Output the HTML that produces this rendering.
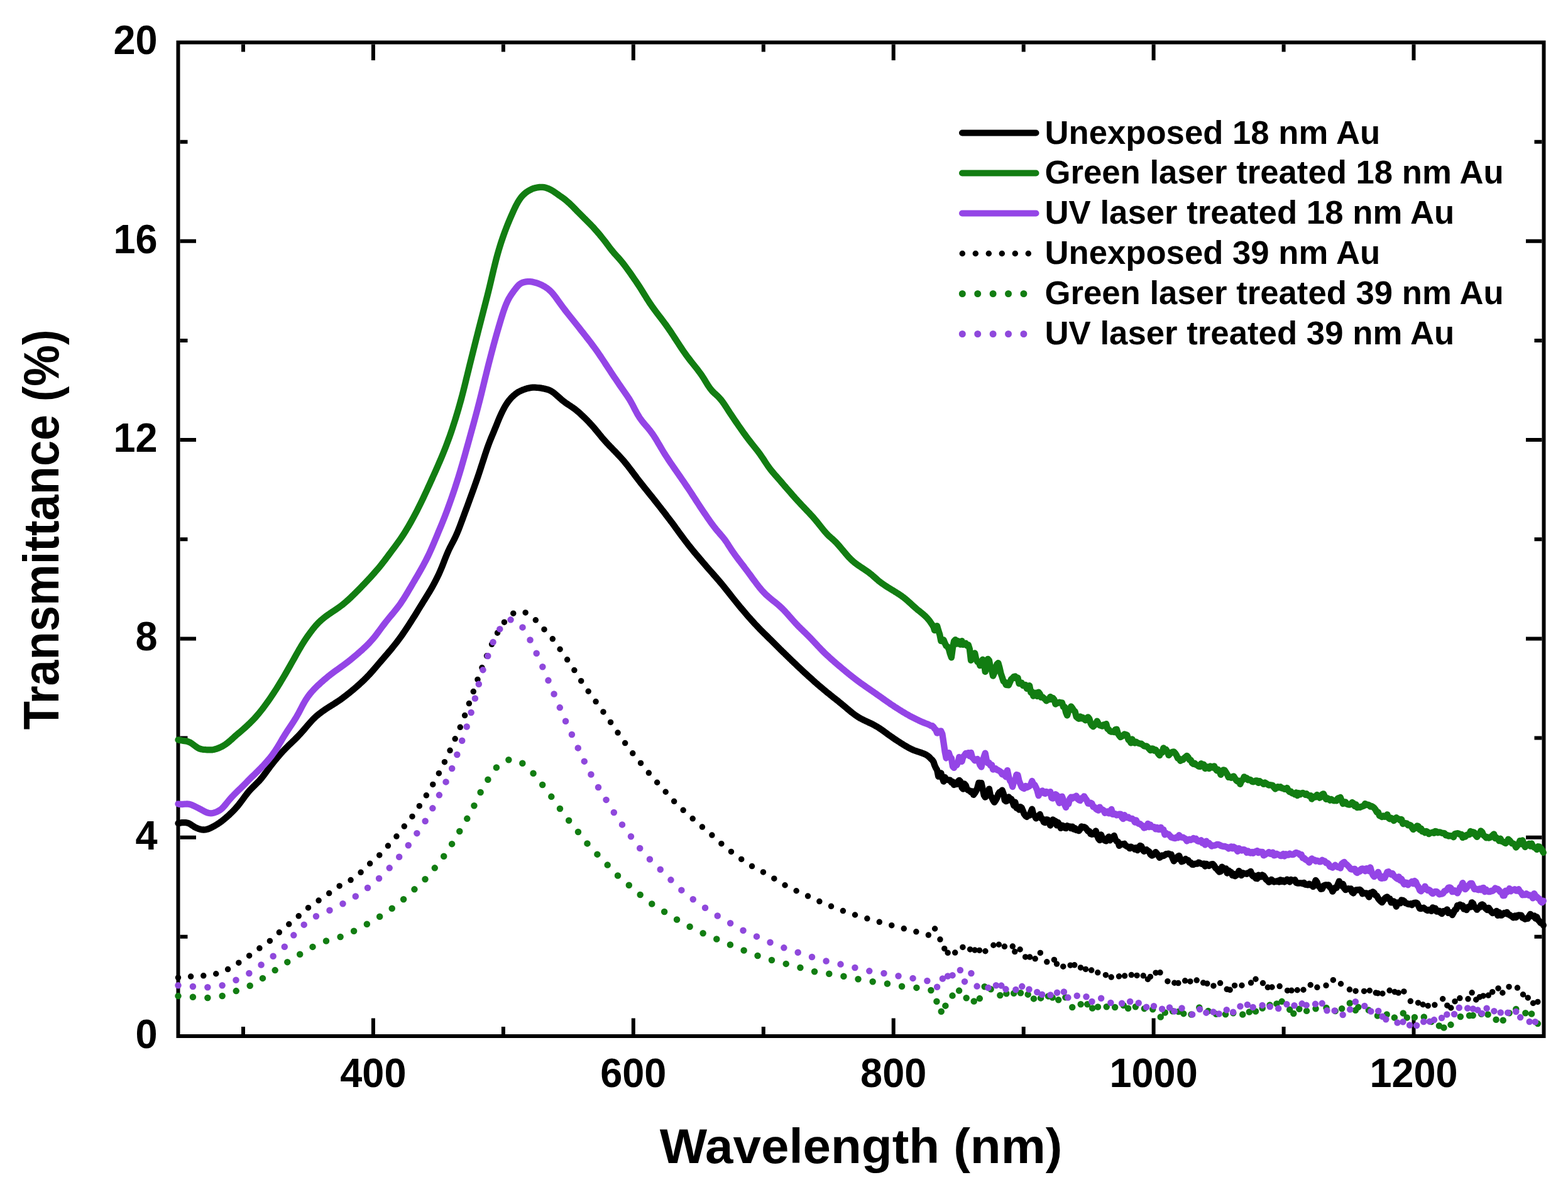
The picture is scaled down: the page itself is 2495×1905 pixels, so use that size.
<!DOCTYPE html>
<html><head><meta charset="utf-8"><title>Transmittance vs Wavelength</title>
<style>html,body{margin:0;padding:0;background:#fff;} svg{display:block;}</style>
</head><body>
<svg xmlns="http://www.w3.org/2000/svg" width="2495" height="1905" viewBox="0 0 2495 1905">
<rect width="2495" height="1905" fill="#fff"/>
<g><rect x="283.5" y="67.5" width="2173.0" height="1581.5" fill="none" stroke="#000" stroke-width="6.0"/><path d="M387.0 1646.0V1634.0M387.0 70.5V82.5M593.9 1646.0V1620.5M593.9 70.5V96.0M800.9 1646.0V1634.0M800.9 70.5V82.5M1007.8 1646.0V1620.5M1007.8 70.5V96.0M1214.8 1646.0V1634.0M1214.8 70.5V82.5M1421.7 1646.0V1620.5M1421.7 70.5V96.0M1628.7 1646.0V1634.0M1628.7 70.5V82.5M1835.6 1646.0V1620.5M1835.6 70.5V96.0M2042.6 1646.0V1634.0M2042.6 70.5V82.5M2249.5 1646.0V1620.5M2249.5 70.5V96.0M286.5 1490.8H298.5M2453.5 1490.8H2441.5M286.5 1332.7H312.0M2453.5 1332.7H2428.0M286.5 1174.5H298.5M2453.5 1174.5H2441.5M286.5 1016.4H312.0M2453.5 1016.4H2428.0M286.5 858.2H298.5M2453.5 858.2H2441.5M286.5 700.1H312.0M2453.5 700.1H2428.0M286.5 542.0H298.5M2453.5 542.0H2441.5M286.5 383.8H312.0M2453.5 383.8H2428.0M286.5 225.7H298.5M2453.5 225.7H2441.5" stroke="#000" stroke-width="6" fill="none"/></g>
<g><path d="M283.5 1310.2L285.5 1309.9L287.5 1309.5L289.5 1309.2L291.5 1309.1L293.5 1309.1L295.5 1309.2L297.5 1309.5L299.5 1310.0L301.5 1310.9L303.5 1312.1L305.5 1313.5L307.5 1314.8L309.5 1316.1L311.5 1317.1L313.5 1318.0L315.5 1318.8L317.5 1319.5L319.5 1320.0L321.5 1320.4L323.5 1320.5L325.5 1320.5L327.5 1320.3L329.5 1319.8L331.5 1319.2L333.5 1318.4L335.5 1317.5L337.5 1316.4L339.5 1315.4L341.5 1314.3L343.5 1313.1L345.5 1311.9L347.5 1310.6L349.5 1309.2L351.5 1307.8L353.5 1306.3L355.5 1304.7L357.5 1303.1L359.5 1301.4L361.5 1299.6L363.5 1297.9L365.5 1296.0L367.5 1294.1L369.5 1292.1L371.5 1290.1L373.5 1288.0L375.5 1285.8L377.5 1283.5L379.5 1281.1L381.5 1278.5L383.5 1275.9L385.5 1273.2L387.5 1270.5L389.5 1267.7L391.5 1265.1L393.5 1262.5L395.5 1260.0L397.5 1257.8L399.5 1255.6L401.5 1253.6L403.5 1251.6L405.5 1249.7L407.5 1247.7L409.5 1245.7L411.5 1243.7L413.5 1241.5L415.5 1239.1L417.5 1236.7L419.5 1234.1L421.5 1231.4L423.5 1228.7L425.5 1226.0L427.5 1223.2L429.5 1220.5L431.5 1217.9L433.5 1215.3L435.5 1212.8L437.5 1210.3L439.5 1207.9L441.5 1205.5L443.5 1203.1L445.5 1200.8L447.5 1198.6L449.5 1196.3L451.5 1194.2L453.5 1192.1L455.5 1190.1L457.5 1188.1L459.5 1186.1L461.5 1184.2L463.5 1182.3L465.5 1180.3L467.5 1178.4L469.5 1176.5L471.5 1174.5L473.5 1172.5L475.5 1170.4L477.5 1168.2L479.5 1166.0L481.5 1163.8L483.5 1161.5L485.5 1159.1L487.5 1156.7L489.5 1154.4L491.5 1152.1L493.5 1149.8L495.5 1147.6L497.5 1145.4L499.5 1143.4L501.5 1141.5L503.5 1139.7L505.5 1138.0L507.5 1136.3L509.5 1134.8L511.5 1133.3L513.5 1131.9L515.5 1130.5L517.5 1129.1L519.5 1127.8L521.5 1126.5L523.5 1125.2L525.5 1124.0L527.5 1122.7L529.5 1121.5L531.5 1120.2L533.5 1118.9L535.5 1117.6L537.5 1116.3L539.5 1115.0L541.5 1113.6L543.5 1112.1L545.5 1110.7L547.5 1109.2L549.5 1107.6L551.5 1106.1L553.5 1104.5L555.5 1102.9L557.5 1101.3L559.5 1099.7L561.5 1098.0L563.5 1096.3L565.5 1094.6L567.5 1092.9L569.5 1091.1L571.5 1089.3L573.5 1087.5L575.5 1085.7L577.5 1083.8L579.5 1081.9L581.5 1079.9L583.5 1077.9L585.5 1075.8L587.5 1073.7L589.5 1071.5L591.5 1069.3L593.5 1067.0L595.5 1064.7L597.5 1062.4L599.5 1060.0L601.5 1057.7L603.5 1055.3L605.5 1053.0L607.5 1050.6L609.5 1048.3L611.5 1046.0L613.5 1043.6L615.5 1041.3L617.5 1039.0L619.5 1036.6L621.5 1034.3L623.5 1031.9L625.5 1029.4L627.5 1026.9L629.5 1024.4L631.5 1021.8L633.5 1019.2L635.5 1016.5L637.5 1013.7L639.5 1010.9L641.5 1008.0L643.5 1005.1L645.5 1002.1L647.5 999.1L649.5 996.1L651.5 993.0L653.5 989.9L655.5 986.8L657.5 983.6L659.5 980.4L661.5 977.2L663.5 974.0L665.5 970.7L667.5 967.4L669.5 964.1L671.5 960.9L673.5 957.6L675.5 954.4L677.5 951.2L679.5 948.0L681.5 944.8L683.5 941.5L685.5 938.1L687.5 934.6L689.5 931.0L691.5 927.3L693.5 923.4L695.5 919.4L697.5 915.3L699.5 910.9L701.5 906.3L703.5 901.5L705.5 896.4L707.5 891.2L709.5 886.1L711.5 881.2L713.5 876.6L715.5 872.4L717.5 868.5L719.5 864.7L721.5 860.9L723.5 856.9L725.5 852.6L727.5 848.1L729.5 843.2L731.5 838.1L733.5 832.8L735.5 827.4L737.5 822.0L739.5 816.5L741.5 811.1L743.5 805.7L745.5 800.3L747.5 794.8L749.5 789.3L751.5 783.8L753.5 778.3L755.5 772.6L757.5 767.0L759.5 761.2L761.5 755.3L763.5 749.3L765.5 743.1L767.5 737.0L769.5 730.8L771.5 724.6L773.5 718.6L775.5 712.8L777.5 707.3L779.5 702.0L781.5 697.0L783.5 692.2L785.5 687.4L787.5 682.6L789.5 677.7L791.5 672.7L793.5 667.8L795.5 663.1L797.5 658.7L799.5 654.5L801.5 650.6L803.5 646.9L805.5 643.6L807.5 640.6L809.5 637.9L811.5 635.5L813.5 633.2L815.5 631.2L817.5 629.3L819.5 627.6L821.5 626.1L823.5 624.7L825.5 623.5L827.5 622.5L829.5 621.6L831.5 620.7L833.5 620.0L835.5 619.2L837.5 618.6L839.5 618.0L841.5 617.6L843.5 617.2L845.5 616.9L847.5 616.7L849.5 616.7L851.5 616.7L853.5 616.8L855.5 617.0L857.5 617.2L859.5 617.4L861.5 617.7L863.5 618.1L865.5 618.5L867.5 618.9L869.5 619.4L871.5 620.0L873.5 620.7L875.5 621.6L877.5 622.7L879.5 624.0L881.5 625.4L883.5 627.1L885.5 628.8L887.5 630.6L889.5 632.4L891.5 634.2L893.5 636.0L895.5 637.7L897.5 639.2L899.5 640.7L901.5 642.1L903.5 643.4L905.5 644.7L907.5 646.0L909.5 647.4L911.5 648.8L913.5 650.2L915.5 651.7L917.5 653.3L919.5 655.0L921.5 656.7L923.5 658.5L925.5 660.4L927.5 662.3L929.5 664.2L931.5 666.2L933.5 668.2L935.5 670.2L937.5 672.3L939.5 674.5L941.5 676.6L943.5 678.9L945.5 681.2L947.5 683.6L949.5 686.0L951.5 688.4L953.5 690.9L955.5 693.3L957.5 695.8L959.5 698.1L961.5 700.4L963.5 702.7L965.5 704.9L967.5 707.0L969.5 709.1L971.5 711.2L973.5 713.2L975.5 715.3L977.5 717.3L979.5 719.4L981.5 721.5L983.5 723.6L985.5 725.7L987.5 727.9L989.5 730.1L991.5 732.4L993.5 734.7L995.5 737.2L997.5 739.6L999.5 742.2L1001.5 744.8L1003.5 747.4L1005.5 750.0L1007.5 752.7L1009.5 755.4L1011.5 758.0L1013.5 760.7L1015.5 763.3L1017.5 765.9L1019.5 768.5L1021.5 771.0L1023.5 773.5L1025.5 776.1L1027.5 778.5L1029.5 781.0L1031.5 783.5L1033.5 786.0L1035.5 788.5L1037.5 790.9L1039.5 793.4L1041.5 796.0L1043.5 798.5L1045.5 801.0L1047.5 803.6L1049.5 806.1L1051.5 808.7L1053.5 811.3L1055.5 813.8L1057.5 816.4L1059.5 819.0L1061.5 821.7L1063.5 824.3L1065.5 826.9L1067.5 829.6L1069.5 832.2L1071.5 834.9L1073.5 837.6L1075.5 840.4L1077.5 843.1L1079.5 845.9L1081.5 848.7L1083.5 851.4L1085.5 854.1L1087.5 856.8L1089.5 859.5L1091.5 862.1L1093.5 864.7L1095.5 867.3L1097.5 869.8L1099.5 872.3L1101.5 874.7L1103.5 877.2L1105.5 879.6L1107.5 882.0L1109.5 884.4L1111.5 886.7L1113.5 889.1L1115.5 891.4L1117.5 893.8L1119.5 896.1L1121.5 898.4L1123.5 900.8L1125.5 903.1L1127.5 905.4L1129.5 907.6L1131.5 909.9L1133.5 912.2L1135.5 914.5L1137.5 916.7L1139.5 919.0L1141.5 921.4L1143.5 923.7L1145.5 926.0L1147.5 928.4L1149.5 930.8L1151.5 933.3L1153.5 935.8L1155.5 938.3L1157.5 940.8L1159.5 943.3L1161.5 945.8L1163.5 948.4L1165.5 950.9L1167.5 953.4L1169.5 955.9L1171.5 958.4L1173.5 960.8L1175.5 963.3L1177.5 965.7L1179.5 968.1L1181.5 970.4L1183.5 972.8L1185.5 975.1L1187.5 977.5L1189.5 979.8L1191.5 982.1L1193.5 984.3L1195.5 986.6L1197.5 988.8L1199.5 991.0L1201.5 993.2L1203.5 995.3L1205.5 997.4L1207.5 999.5L1209.5 1001.6L1211.5 1003.6L1213.5 1005.6L1215.5 1007.6L1217.5 1009.6L1219.5 1011.5L1221.5 1013.5L1223.5 1015.5L1225.5 1017.4L1227.5 1019.4L1229.5 1021.4L1231.5 1023.4L1233.5 1025.4L1235.5 1027.4L1237.5 1029.4L1239.5 1031.4L1241.5 1033.4L1243.5 1035.3L1245.5 1037.3L1247.5 1039.2L1249.5 1041.2L1251.5 1043.1L1253.5 1045.1L1255.5 1047.0L1257.5 1048.9L1259.5 1050.9L1261.5 1052.8L1263.5 1054.7L1265.5 1056.6L1267.5 1058.5L1269.5 1060.4L1271.5 1062.3L1273.5 1064.2L1275.5 1066.0L1277.5 1067.9L1279.5 1069.8L1281.5 1071.6L1283.5 1073.4L1285.5 1075.3L1287.5 1077.1L1289.5 1078.9L1291.5 1080.7L1293.5 1082.5L1295.5 1084.3L1297.5 1086.1L1299.5 1087.8L1301.5 1089.6L1303.5 1091.3L1305.5 1093.0L1307.5 1094.7L1309.5 1096.4L1311.5 1098.1L1313.5 1099.7L1315.5 1101.4L1317.5 1103.0L1319.5 1104.6L1321.5 1106.2L1323.5 1107.8L1325.5 1109.4L1327.5 1111.0L1329.5 1112.6L1331.5 1114.2L1333.5 1115.7L1335.5 1117.4L1337.5 1119.0L1339.5 1120.6L1341.5 1122.3L1343.5 1123.9L1345.5 1125.6L1347.5 1127.3L1349.5 1129.0L1351.5 1130.7L1353.5 1132.3L1355.5 1134.0L1357.5 1135.5L1359.5 1137.0L1361.5 1138.5L1363.5 1139.8L1365.5 1141.1L1367.5 1142.3L1369.5 1143.5L1371.5 1144.5L1373.5 1145.6L1375.5 1146.5L1377.5 1147.5L1379.5 1148.4L1381.5 1149.3L1383.5 1150.3L1385.5 1151.2L1387.5 1152.2L1389.5 1153.2L1391.5 1154.3L1393.5 1155.4L1395.5 1156.5L1397.5 1157.8L1399.5 1159.1L1401.5 1160.4L1403.5 1161.8L1405.5 1163.2L1407.5 1164.7L1409.5 1166.1L1411.5 1167.6L1413.5 1169.1L1415.5 1170.5L1417.5 1171.9L1419.5 1173.3L1421.5 1174.7L1423.5 1176.1L1425.5 1177.4L1427.5 1178.7L1429.5 1180.0L1431.5 1181.3L1433.5 1182.6L1435.5 1183.8L1437.5 1185.1L1439.5 1186.3L1441.5 1187.5L1443.5 1188.7L1445.5 1189.8L1447.5 1190.8L1449.5 1191.8L1451.5 1192.8L1453.5 1193.7L1455.5 1194.5L1457.5 1195.2L1459.5 1195.9L1461.5 1196.5L1463.5 1197.2L1465.5 1197.8L1467.5 1198.6L1469.5 1199.3L1471.5 1200.2L1473.5 1201.2L1475.5 1202.4L1477.5 1203.9L1479.5 1205.7L1481.5 1207.9L1483.5 1209.6L1485.5 1212.6L1487.0 1217.4L1489.1 1222.2L1491.1 1225.5L1493.2 1235.6L1495.3 1231.9L1497.3 1230.4L1499.4 1238.2L1501.5 1243.6L1503.6 1237.2L1505.6 1240.5L1507.7 1240.9L1509.8 1241.4L1511.8 1241.7L1513.9 1245.2L1516.0 1244.1L1518.0 1249.0L1520.1 1247.2L1522.2 1248.0L1524.3 1243.9L1526.3 1241.8L1528.4 1243.9L1530.5 1253.3L1532.5 1255.6L1534.6 1247.4L1536.7 1250.0L1538.7 1256.0L1540.8 1257.7L1542.9 1258.4L1545.0 1260.5L1547.0 1259.5L1549.1 1264.9L1551.2 1262.2L1553.2 1258.7L1555.3 1253.6L1557.4 1245.8L1559.4 1246.3L1561.5 1246.1L1563.6 1255.3L1565.7 1265.5L1567.7 1268.7L1569.8 1264.3L1571.9 1264.0L1573.9 1255.6L1576.0 1266.4L1578.1 1268.9L1580.1 1273.5L1582.2 1276.7L1584.3 1273.7L1586.4 1269.8L1588.4 1263.8L1590.5 1260.7L1592.6 1260.2L1594.6 1257.6L1596.7 1263.1L1598.8 1273.8L1600.8 1275.1L1602.9 1274.3L1605.0 1268.3L1607.1 1271.1L1609.1 1271.5L1611.2 1276.0L1613.3 1282.0L1615.3 1276.6L1617.4 1285.8L1619.5 1284.7L1621.5 1288.5L1623.6 1284.1L1625.7 1285.7L1627.8 1290.8L1629.8 1295.7L1631.9 1298.5L1634.0 1299.9L1636.0 1297.4L1638.1 1297.5L1640.2 1292.4L1642.2 1287.7L1644.3 1296.3L1646.4 1298.4L1648.5 1302.4L1650.5 1299.3L1652.6 1299.0L1654.7 1296.0L1656.7 1302.4L1658.8 1303.1L1660.9 1308.5L1662.9 1309.2L1665.0 1304.3L1667.1 1304.6L1669.2 1307.5L1671.2 1313.5L1673.3 1310.5L1675.4 1304.5L1677.4 1306.0L1679.5 1307.0L1681.6 1313.4L1683.6 1309.0L1685.7 1312.8L1687.8 1317.9L1689.9 1313.7L1691.9 1314.4L1694.0 1317.5L1696.1 1318.0L1698.1 1314.2L1700.2 1316.2L1702.3 1315.4L1704.3 1318.2L1706.4 1315.6L1708.5 1319.6L1710.6 1318.1L1712.6 1321.0L1714.7 1320.7L1716.8 1322.2L1718.8 1319.5L1720.9 1315.4L1723.0 1316.8L1725.0 1316.1L1727.1 1317.2L1729.2 1319.8L1731.3 1322.8L1733.3 1322.9L1735.4 1327.1L1737.5 1327.7L1739.5 1325.6L1741.6 1327.5L1743.7 1322.5L1745.7 1329.4L1747.8 1334.6L1749.9 1337.0L1752.0 1328.4L1754.0 1333.3L1756.1 1336.3L1758.2 1337.6L1760.2 1338.4L1762.3 1334.0L1764.4 1331.7L1766.4 1337.3L1768.5 1332.9L1770.6 1332.9L1772.7 1330.0L1774.7 1335.8L1776.8 1338.9L1778.9 1339.6L1780.9 1345.8L1783.0 1344.2L1785.1 1343.5L1787.1 1343.5L1789.2 1342.8L1791.3 1345.9L1793.4 1347.1L1795.4 1347.7L1797.5 1350.2L1799.6 1347.6L1801.6 1349.1L1803.7 1349.4L1805.8 1351.7L1807.8 1349.1L1809.9 1353.1L1812.0 1348.6L1814.1 1346.0L1816.1 1346.6L1818.2 1352.2L1820.3 1354.9L1822.3 1352.8L1824.4 1352.2L1826.5 1354.1L1828.5 1355.4L1830.6 1359.6L1832.7 1361.5L1834.8 1360.8L1836.8 1358.6L1838.9 1356.2L1841.0 1358.6L1843.0 1361.4L1845.1 1364.9L1847.2 1363.3L1849.2 1361.5L1851.3 1362.1L1853.4 1360.8L1855.5 1359.2L1857.5 1359.1L1859.6 1358.6L1861.7 1360.1L1863.7 1360.0L1865.8 1365.8L1867.9 1370.3L1869.9 1367.3L1872.0 1367.2L1874.1 1363.2L1876.2 1361.9L1878.2 1367.3L1880.3 1371.3L1882.4 1370.5L1884.4 1368.6L1886.5 1367.1L1888.6 1368.7L1890.6 1369.0L1892.7 1372.8L1894.8 1372.8L1896.9 1375.8L1898.9 1376.0L1901.0 1374.9L1903.1 1374.6L1905.1 1374.7L1907.2 1372.7L1909.3 1373.4L1911.3 1374.5L1913.4 1375.3L1915.5 1374.6L1917.6 1378.5L1919.6 1374.8L1921.7 1377.1L1923.8 1378.0L1925.8 1376.2L1927.9 1375.4L1930.0 1375.2L1932.0 1377.6L1934.1 1381.3L1936.2 1382.8L1938.3 1385.5L1940.3 1387.6L1942.4 1386.7L1944.5 1379.6L1946.5 1382.0L1948.6 1383.1L1950.7 1382.3L1952.7 1389.5L1954.8 1385.3L1956.9 1387.2L1959.0 1388.2L1961.0 1393.1L1963.1 1390.9L1965.2 1394.3L1967.2 1393.0L1969.3 1390.6L1971.4 1386.1L1973.4 1388.3L1975.5 1393.1L1977.6 1389.3L1979.7 1390.1L1981.7 1390.3L1983.8 1390.9L1985.9 1389.1L1987.9 1389.1L1990.0 1386.8L1992.1 1392.5L1994.1 1394.5L1996.2 1393.8L1998.3 1397.9L2000.4 1398.2L2002.4 1392.7L2004.5 1393.6L2006.6 1395.4L2008.6 1392.6L2010.7 1393.8L2012.8 1396.9L2014.8 1399.8L2016.9 1401.2L2019.0 1403.8L2021.1 1402.8L2023.1 1399.8L2025.2 1402.1L2027.3 1403.5L2029.3 1402.6L2031.4 1402.8L2033.5 1401.8L2035.5 1403.6L2037.6 1400.3L2039.7 1402.9L2041.8 1401.4L2043.8 1403.4L2045.9 1402.3L2048.0 1399.7L2050.0 1401.6L2052.1 1403.5L2054.2 1399.9L2056.2 1401.0L2058.3 1401.0L2060.4 1400.3L2062.5 1404.7L2064.5 1405.6L2066.6 1405.5L2068.7 1405.3L2070.7 1405.4L2072.8 1406.3L2074.9 1404.9L2076.9 1407.6L2079.0 1408.0L2081.1 1408.3L2083.2 1406.7L2085.2 1408.4L2087.3 1408.8L2089.4 1411.2L2091.4 1406.5L2093.5 1401.0L2095.6 1404.0L2097.6 1409.7L2099.7 1411.2L2101.8 1414.8L2103.9 1414.5L2105.9 1409.9L2108.0 1408.8L2110.1 1408.3L2112.1 1408.7L2114.2 1408.5L2116.3 1412.1L2118.3 1413.6L2120.4 1418.7L2122.5 1415.5L2124.6 1412.6L2126.6 1412.8L2128.7 1407.7L2130.8 1402.6L2132.8 1405.7L2134.9 1409.8L2137.0 1407.0L2139.0 1413.7L2141.1 1416.1L2143.2 1415.1L2145.3 1414.2L2147.3 1415.1L2149.4 1414.3L2151.5 1420.0L2153.5 1421.5L2155.6 1417.8L2157.7 1416.5L2159.7 1416.5L2161.8 1416.1L2163.9 1415.9L2166.0 1418.0L2168.0 1422.4L2170.1 1420.9L2172.2 1421.8L2174.2 1421.5L2176.3 1424.1L2178.4 1427.6L2180.4 1421.0L2182.5 1422.5L2184.6 1419.4L2186.7 1421.2L2188.7 1424.9L2190.8 1425.6L2192.9 1429.7L2194.9 1432.2L2197.0 1434.4L2199.1 1436.2L2201.1 1433.3L2203.2 1430.2L2205.3 1428.2L2207.4 1427.4L2209.4 1430.6L2211.5 1430.4L2213.6 1436.4L2215.6 1436.1L2217.7 1434.3L2219.8 1436.7L2221.8 1442.6L2223.9 1436.4L2226.0 1436.9L2228.1 1437.3L2230.1 1432.5L2232.2 1432.8L2234.3 1434.2L2236.3 1437.1L2238.4 1437.5L2240.5 1438.8L2242.5 1439.2L2244.6 1438.3L2246.7 1440.3L2248.8 1437.6L2250.8 1436.8L2252.9 1436.6L2255.0 1437.5L2257.0 1441.3L2259.1 1445.9L2261.2 1446.1L2263.2 1445.2L2265.3 1444.7L2267.4 1446.4L2269.5 1448.0L2271.5 1449.1L2273.6 1447.8L2275.7 1448.4L2277.7 1449.9L2279.8 1444.3L2281.9 1448.0L2283.9 1445.6L2286.0 1450.6L2288.1 1450.5L2290.2 1449.8L2292.2 1452.6L2294.3 1454.1L2296.4 1450.1L2298.4 1450.5L2300.5 1449.5L2302.6 1447.4L2304.6 1452.9L2306.7 1452.7L2308.8 1452.1L2310.9 1456.1L2312.9 1452.5L2315.0 1448.1L2317.1 1447.2L2319.1 1441.1L2321.2 1441.5L2323.3 1439.6L2325.3 1442.8L2327.4 1441.2L2329.5 1446.6L2331.6 1446.2L2333.6 1448.2L2335.7 1443.5L2337.8 1443.1L2339.8 1443.6L2341.9 1436.3L2344.0 1437.9L2346.0 1443.4L2348.1 1444.7L2350.2 1447.7L2352.3 1444.5L2354.3 1444.2L2356.4 1440.4L2358.5 1439.4L2360.5 1440.8L2362.6 1444.5L2364.7 1446.4L2366.7 1448.2L2368.8 1444.9L2370.9 1448.0L2373.0 1451.1L2375.0 1453.1L2377.1 1452.4L2379.2 1452.1L2381.2 1449.9L2383.3 1456.9L2385.4 1451.9L2387.4 1456.6L2389.5 1456.6L2391.6 1454.8L2393.7 1453.0L2395.7 1453.7L2397.8 1451.9L2399.9 1455.2L2401.9 1455.7L2404.0 1457.4L2406.1 1458.6L2408.1 1460.4L2410.2 1457.5L2412.3 1460.1L2414.4 1456.9L2416.4 1456.4L2418.5 1456.6L2420.6 1456.6L2422.6 1460.6L2424.7 1461.3L2426.8 1462.8L2428.8 1461.7L2430.9 1461.9L2433.0 1458.1L2435.1 1454.9L2437.1 1457.3L2439.2 1458.3L2441.3 1457.4L2443.3 1461.7L2445.4 1459.5L2447.5 1464.1L2449.5 1466.1L2451.6 1468.9L2453.7 1469.3L2455.8 1472.6" fill="none" stroke="#000" stroke-width="10.3" stroke-linejoin="round" stroke-linecap="round"/><path d="M283.5 1177.5L285.5 1177.8L287.5 1178.1L289.5 1178.5L291.5 1178.8L293.5 1179.1L295.5 1179.4L297.5 1179.8L299.5 1180.4L301.5 1181.2L303.5 1182.2L305.5 1183.5L307.5 1185.0L309.5 1186.5L311.5 1188.0L313.5 1189.4L315.5 1190.6L317.5 1191.5L319.5 1192.1L321.5 1192.5L323.5 1192.8L325.5 1193.0L327.5 1193.2L329.5 1193.3L331.5 1193.4L333.5 1193.4L335.5 1193.4L337.5 1193.3L339.5 1193.0L341.5 1192.6L343.5 1192.1L345.5 1191.4L347.5 1190.7L349.5 1189.8L351.5 1188.9L353.5 1187.9L355.5 1186.8L357.5 1185.5L359.5 1184.2L361.5 1182.7L363.5 1181.1L365.5 1179.3L367.5 1177.6L369.5 1175.8L371.5 1174.0L373.5 1172.2L375.5 1170.4L377.5 1168.7L379.5 1167.0L381.5 1165.3L383.5 1163.6L385.5 1161.9L387.5 1160.2L389.5 1158.4L391.5 1156.6L393.5 1154.7L395.5 1152.8L397.5 1150.9L399.5 1148.9L401.5 1146.9L403.5 1144.9L405.5 1142.7L407.5 1140.5L409.5 1138.2L411.5 1135.9L413.5 1133.4L415.5 1130.9L417.5 1128.4L419.5 1125.7L421.5 1123.0L423.5 1120.3L425.5 1117.5L427.5 1114.7L429.5 1111.8L431.5 1108.9L433.5 1105.9L435.5 1102.9L437.5 1099.8L439.5 1096.7L441.5 1093.5L443.5 1090.3L445.5 1087.0L447.5 1083.7L449.5 1080.4L451.5 1077.0L453.5 1073.6L455.5 1070.1L457.5 1066.6L459.5 1063.1L461.5 1059.6L463.5 1056.0L465.5 1052.5L467.5 1048.9L469.5 1045.4L471.5 1041.8L473.5 1038.3L475.5 1034.7L477.5 1031.3L479.5 1027.9L481.5 1024.6L483.5 1021.4L485.5 1018.4L487.5 1015.4L489.5 1012.5L491.5 1009.7L493.5 1006.9L495.5 1004.3L497.5 1001.7L499.5 999.2L501.5 996.8L503.5 994.5L505.5 992.4L507.5 990.3L509.5 988.4L511.5 986.6L513.5 984.9L515.5 983.3L517.5 981.7L519.5 980.2L521.5 978.8L523.5 977.4L525.5 976.0L527.5 974.6L529.5 973.3L531.5 972.0L533.5 970.6L535.5 969.3L537.5 967.9L539.5 966.5L541.5 965.0L543.5 963.5L545.5 961.9L547.5 960.3L549.5 958.6L551.5 956.9L553.5 955.1L555.5 953.3L557.5 951.4L559.5 949.5L561.5 947.6L563.5 945.6L565.5 943.7L567.5 941.7L569.5 939.7L571.5 937.6L573.5 935.6L575.5 933.5L577.5 931.4L579.5 929.4L581.5 927.3L583.5 925.1L585.5 923.0L587.5 920.9L589.5 918.7L591.5 916.5L593.5 914.3L595.5 912.0L597.5 909.7L599.5 907.4L601.5 905.1L603.5 902.7L605.5 900.3L607.5 897.8L609.5 895.2L611.5 892.6L613.5 890.0L615.5 887.3L617.5 884.6L619.5 881.9L621.5 879.2L623.5 876.5L625.5 873.9L627.5 871.2L629.5 868.5L631.5 865.8L633.5 863.0L635.5 860.2L637.5 857.3L639.5 854.3L641.5 851.3L643.5 848.2L645.5 845.0L647.5 841.7L649.5 838.3L651.5 834.9L653.5 831.4L655.5 827.8L657.5 824.1L659.5 820.4L661.5 816.6L663.5 812.8L665.5 808.8L667.5 804.8L669.5 800.8L671.5 796.6L673.5 792.5L675.5 788.2L677.5 783.9L679.5 779.6L681.5 775.2L683.5 770.8L685.5 766.4L687.5 762.0L689.5 757.5L691.5 753.1L693.5 748.6L695.5 744.1L697.5 739.5L699.5 734.9L701.5 730.2L703.5 725.5L705.5 720.6L707.5 715.6L709.5 710.6L711.5 705.3L713.5 699.9L715.5 694.4L717.5 688.7L719.5 682.8L721.5 676.7L723.5 670.5L725.5 664.1L727.5 657.5L729.5 650.7L731.5 643.7L733.5 636.5L735.5 629.0L737.5 621.2L739.5 613.2L741.5 605.1L743.5 596.9L745.5 588.7L747.5 580.6L749.5 572.5L751.5 564.5L753.5 556.5L755.5 548.5L757.5 540.6L759.5 532.7L761.5 524.8L763.5 517.0L765.5 509.2L767.5 501.5L769.5 493.8L771.5 486.0L773.5 478.3L775.5 470.4L777.5 462.4L779.5 454.2L781.5 445.8L783.5 437.3L785.5 428.9L787.5 420.7L789.5 412.8L791.5 405.3L793.5 398.3L795.5 391.7L797.5 385.4L799.5 379.5L801.5 373.8L803.5 368.3L805.5 363.0L807.5 357.9L809.5 353.0L811.5 348.2L813.5 343.6L815.5 339.1L817.5 334.7L819.5 330.4L821.5 326.4L823.5 322.7L825.5 319.3L827.5 316.3L829.5 313.7L831.5 311.4L833.5 309.4L835.5 307.6L837.5 306.0L839.5 304.6L841.5 303.4L843.5 302.3L845.5 301.3L847.5 300.4L849.5 299.7L851.5 299.1L853.5 298.7L855.5 298.3L857.5 298.0L859.5 297.9L861.5 297.8L863.5 297.9L865.5 298.1L867.5 298.5L869.5 299.1L871.5 299.8L873.5 300.6L875.5 301.6L877.5 302.6L879.5 303.8L881.5 305.1L883.5 306.5L885.5 307.9L887.5 309.3L889.5 310.7L891.5 312.1L893.5 313.5L895.5 314.9L897.5 316.4L899.5 317.9L901.5 319.6L903.5 321.3L905.5 323.1L907.5 325.0L909.5 326.9L911.5 328.9L913.5 331.0L915.5 333.0L917.5 335.1L919.5 337.2L921.5 339.2L923.5 341.2L925.5 343.2L927.5 345.2L929.5 347.2L931.5 349.1L933.5 351.1L935.5 353.1L937.5 355.1L939.5 357.1L941.5 359.2L943.5 361.3L945.5 363.5L947.5 365.8L949.5 368.0L951.5 370.4L953.5 372.7L955.5 375.1L957.5 377.6L959.5 380.1L961.5 382.6L963.5 385.2L965.5 387.8L967.5 390.5L969.5 393.2L971.5 395.8L973.5 398.4L975.5 400.8L977.5 403.2L979.5 405.4L981.5 407.6L983.5 409.8L985.5 412.0L987.5 414.3L989.5 416.7L991.5 419.2L993.5 421.8L995.5 424.5L997.5 427.2L999.5 430.0L1001.5 432.8L1003.5 435.6L1005.5 438.5L1007.5 441.4L1009.5 444.3L1011.5 447.2L1013.5 450.2L1015.5 453.2L1017.5 456.2L1019.5 459.3L1021.5 462.5L1023.5 465.7L1025.5 468.9L1027.5 472.2L1029.5 475.4L1031.5 478.5L1033.5 481.6L1035.5 484.6L1037.5 487.4L1039.5 490.2L1041.5 493.0L1043.5 495.7L1045.5 498.3L1047.5 501.0L1049.5 503.6L1051.5 506.2L1053.5 508.8L1055.5 511.5L1057.5 514.2L1059.5 516.9L1061.5 519.7L1063.5 522.6L1065.5 525.5L1067.5 528.4L1069.5 531.5L1071.5 534.5L1073.5 537.6L1075.5 540.6L1077.5 543.7L1079.5 546.8L1081.5 549.8L1083.5 552.9L1085.5 555.9L1087.5 558.8L1089.5 561.7L1091.5 564.5L1093.5 567.2L1095.5 569.9L1097.5 572.5L1099.5 575.1L1101.5 577.6L1103.5 580.1L1105.5 582.6L1107.5 585.1L1109.5 587.7L1111.5 590.3L1113.5 593.0L1115.5 595.8L1117.5 598.7L1119.5 601.8L1121.5 605.0L1123.5 608.3L1125.5 611.6L1127.5 614.7L1129.5 617.6L1131.5 620.2L1133.5 622.5L1135.5 624.5L1137.5 626.4L1139.5 628.2L1141.5 630.1L1143.5 632.0L1145.5 634.2L1147.5 636.5L1149.5 639.1L1151.5 641.9L1153.5 644.9L1155.5 647.9L1157.5 651.0L1159.5 654.1L1161.5 657.2L1163.5 660.2L1165.5 663.2L1167.5 666.1L1169.5 669.1L1171.5 672.0L1173.5 674.9L1175.5 677.8L1177.5 680.7L1179.5 683.5L1181.5 686.4L1183.5 689.2L1185.5 691.9L1187.5 694.7L1189.5 697.3L1191.5 700.0L1193.5 702.5L1195.5 705.1L1197.5 707.6L1199.5 710.1L1201.5 712.6L1203.5 715.1L1205.5 717.7L1207.5 720.3L1209.5 723.1L1211.5 725.9L1213.5 728.8L1215.5 731.9L1217.5 735.0L1219.5 738.0L1221.5 741.0L1223.5 743.8L1225.5 746.5L1227.5 749.0L1229.5 751.4L1231.5 753.8L1233.5 756.1L1235.5 758.3L1237.5 760.6L1239.5 762.9L1241.5 765.2L1243.5 767.5L1245.5 769.8L1247.5 772.2L1249.5 774.5L1251.5 776.8L1253.5 779.1L1255.5 781.4L1257.5 783.7L1259.5 786.0L1261.5 788.3L1263.5 790.5L1265.5 792.8L1267.5 795.0L1269.5 797.2L1271.5 799.4L1273.5 801.5L1275.5 803.7L1277.5 805.8L1279.5 807.9L1281.5 810.0L1283.5 812.1L1285.5 814.2L1287.5 816.3L1289.5 818.5L1291.5 820.6L1293.5 822.8L1295.5 825.1L1297.5 827.5L1299.5 829.9L1301.5 832.3L1303.5 834.9L1305.5 837.4L1307.5 839.9L1309.5 842.4L1311.5 844.9L1313.5 847.2L1315.5 849.4L1317.5 851.5L1319.5 853.4L1321.5 855.2L1323.5 856.9L1325.5 858.7L1327.5 860.5L1329.5 862.4L1331.5 864.5L1333.5 866.7L1335.5 869.0L1337.5 871.3L1339.5 873.7L1341.5 876.1L1343.5 878.5L1345.5 880.9L1347.5 883.3L1349.5 885.5L1351.5 887.7L1353.5 889.7L1355.5 891.6L1357.5 893.4L1359.5 895.1L1361.5 896.6L1363.5 898.1L1365.5 899.6L1367.5 900.9L1369.5 902.3L1371.5 903.6L1373.5 904.9L1375.5 906.3L1377.5 907.6L1379.5 909.0L1381.5 910.4L1383.5 911.9L1385.5 913.5L1387.5 915.1L1389.5 916.8L1391.5 918.6L1393.5 920.4L1395.5 922.2L1397.5 923.9L1399.5 925.5L1401.5 927.1L1403.5 928.5L1405.5 929.9L1407.5 931.3L1409.5 932.6L1411.5 933.9L1413.5 935.2L1415.5 936.4L1417.5 937.6L1419.5 938.8L1421.5 940.0L1423.5 941.3L1425.5 942.5L1427.5 943.8L1429.5 945.0L1431.5 946.4L1433.5 947.7L1435.5 949.2L1437.5 950.6L1439.5 952.2L1441.5 953.8L1443.5 955.5L1445.5 957.3L1447.5 959.1L1449.5 960.9L1451.5 962.8L1453.5 964.6L1455.5 966.4L1457.5 968.2L1459.5 969.9L1461.5 971.5L1463.5 973.1L1465.5 974.7L1467.5 976.3L1469.5 978.0L1471.5 979.8L1473.5 981.7L1475.5 983.8L1477.5 986.1L1479.5 988.7L1481.5 991.6L1483.5 994.4L1485.5 997.9L1487.0 1003.0L1489.1 996.8L1491.1 996.1L1493.2 1003.4L1495.3 1009.8L1497.3 1020.0L1499.4 1020.3L1501.5 1018.5L1503.6 1023.8L1505.6 1027.9L1507.7 1029.1L1509.8 1032.9L1511.8 1040.4L1513.9 1046.4L1516.0 1030.7L1518.0 1020.4L1520.1 1018.1L1522.2 1024.5L1524.3 1020.1L1526.3 1024.5L1528.4 1025.7L1530.5 1020.1L1532.5 1025.9L1534.6 1024.8L1536.7 1023.9L1538.7 1027.7L1540.8 1026.3L1542.9 1033.0L1545.0 1050.9L1547.0 1046.7L1549.1 1047.2L1551.2 1039.5L1553.2 1049.1L1555.3 1053.2L1557.4 1053.8L1559.4 1059.2L1561.5 1057.0L1563.6 1049.7L1565.7 1054.9L1567.7 1069.0L1569.8 1059.0L1571.9 1048.9L1573.9 1051.0L1576.0 1062.5L1578.1 1067.3L1580.1 1075.7L1582.2 1071.0L1584.3 1061.8L1586.4 1057.1L1588.4 1055.2L1590.5 1062.7L1592.6 1071.9L1594.6 1077.6L1596.7 1084.3L1598.8 1085.4L1600.8 1089.8L1602.9 1090.1L1605.0 1090.3L1607.1 1085.4L1609.1 1081.0L1611.2 1079.3L1613.3 1076.9L1615.3 1076.4L1617.4 1079.8L1619.5 1078.7L1621.5 1087.9L1623.6 1087.2L1625.7 1086.7L1627.8 1091.1L1629.8 1091.4L1631.9 1090.0L1634.0 1095.9L1636.0 1094.1L1638.1 1091.1L1640.2 1101.9L1642.2 1100.9L1644.3 1107.7L1646.4 1104.5L1648.5 1102.7L1650.5 1108.0L1652.6 1101.6L1654.7 1104.4L1656.7 1109.6L1658.8 1109.1L1660.9 1111.2L1662.9 1112.7L1665.0 1115.4L1667.1 1113.1L1669.2 1113.3L1671.2 1109.0L1673.3 1112.8L1675.4 1110.9L1677.4 1113.4L1679.5 1120.6L1681.6 1118.2L1683.6 1118.8L1685.7 1117.6L1687.8 1118.9L1689.9 1118.3L1691.9 1124.8L1694.0 1125.1L1696.1 1133.7L1698.1 1138.6L1700.2 1131.3L1702.3 1128.3L1704.3 1124.3L1706.4 1127.1L1708.5 1130.7L1710.6 1132.5L1712.6 1140.6L1714.7 1142.5L1716.8 1143.8L1718.8 1140.5L1720.9 1143.4L1723.0 1141.8L1725.0 1144.4L1727.1 1146.3L1729.2 1143.0L1731.3 1141.3L1733.3 1143.7L1735.4 1150.9L1737.5 1154.6L1739.5 1156.2L1741.6 1154.3L1743.7 1151.8L1745.7 1147.6L1747.8 1151.6L1749.9 1154.3L1752.0 1154.9L1754.0 1155.6L1756.1 1153.4L1758.2 1153.3L1760.2 1152.1L1762.3 1159.8L1764.4 1161.3L1766.4 1163.8L1768.5 1164.6L1770.6 1164.5L1772.7 1165.0L1774.7 1161.2L1776.8 1160.6L1778.9 1167.4L1780.9 1170.6L1783.0 1173.0L1785.1 1171.8L1787.1 1170.9L1789.2 1168.5L1791.3 1169.1L1793.4 1170.0L1795.4 1177.2L1797.5 1178.7L1799.6 1182.3L1801.6 1176.5L1803.7 1181.6L1805.8 1182.5L1807.8 1180.7L1809.9 1182.2L1812.0 1183.0L1814.1 1183.6L1816.1 1183.7L1818.2 1185.4L1820.3 1187.2L1822.3 1187.6L1824.4 1187.4L1826.5 1189.5L1828.5 1191.7L1830.6 1194.1L1832.7 1191.5L1834.8 1191.7L1836.8 1194.7L1838.9 1193.3L1841.0 1196.3L1843.0 1199.5L1845.1 1202.2L1847.2 1197.2L1849.2 1197.4L1851.3 1190.5L1853.4 1193.9L1855.5 1193.1L1857.5 1196.2L1859.6 1201.9L1861.7 1199.7L1863.7 1197.6L1865.8 1196.6L1867.9 1196.5L1869.9 1198.7L1872.0 1201.9L1874.1 1206.8L1876.2 1207.2L1878.2 1210.8L1880.3 1208.7L1882.4 1209.1L1884.4 1206.5L1886.5 1204.7L1888.6 1202.8L1890.6 1205.1L1892.7 1209.2L1894.8 1209.8L1896.9 1214.3L1898.9 1215.7L1901.0 1214.7L1903.1 1217.0L1905.1 1217.8L1907.2 1219.6L1909.3 1219.9L1911.3 1215.2L1913.4 1217.9L1915.5 1216.7L1917.6 1223.0L1919.6 1222.4L1921.7 1220.5L1923.8 1223.2L1925.8 1219.3L1927.9 1221.3L1930.0 1221.7L1932.0 1219.3L1934.1 1223.6L1936.2 1226.3L1938.3 1224.8L1940.3 1227.1L1942.4 1232.8L1944.5 1229.6L1946.5 1225.4L1948.6 1225.8L1950.7 1229.1L1952.7 1232.2L1954.8 1236.9L1956.9 1236.6L1959.0 1237.8L1961.0 1236.1L1963.1 1235.4L1965.2 1238.9L1967.2 1242.0L1969.3 1243.5L1971.4 1242.6L1973.4 1247.9L1975.5 1242.6L1977.6 1241.1L1979.7 1236.3L1981.7 1237.8L1983.8 1238.3L1985.9 1241.3L1987.9 1240.4L1990.0 1241.3L1992.1 1243.8L1994.1 1244.3L1996.2 1243.8L1998.3 1242.3L2000.4 1242.3L2002.4 1245.9L2004.5 1243.2L2006.6 1245.1L2008.6 1245.9L2010.7 1247.9L2012.8 1245.5L2014.8 1246.8L2016.9 1248.3L2019.0 1249.6L2021.1 1249.2L2023.1 1249.6L2025.2 1250.1L2027.3 1253.3L2029.3 1255.5L2031.4 1253.0L2033.5 1252.1L2035.5 1253.4L2037.6 1252.3L2039.7 1254.4L2041.8 1254.7L2043.8 1255.9L2045.9 1255.7L2048.0 1254.0L2050.0 1258.0L2052.1 1260.4L2054.2 1259.7L2056.2 1262.5L2058.3 1262.9L2060.4 1264.4L2062.5 1261.4L2064.5 1266.1L2066.6 1262.2L2068.7 1264.4L2070.7 1262.4L2072.8 1261.9L2074.9 1262.7L2076.9 1264.7L2079.0 1263.4L2081.1 1265.6L2083.2 1266.8L2085.2 1266.3L2087.3 1271.6L2089.4 1269.6L2091.4 1267.7L2093.5 1268.4L2095.6 1265.0L2097.6 1266.6L2099.7 1269.6L2101.8 1268.6L2103.9 1264.2L2105.9 1263.3L2108.0 1267.7L2110.1 1271.9L2112.1 1270.3L2114.2 1271.5L2116.3 1273.6L2118.3 1272.0L2120.4 1273.4L2122.5 1274.3L2124.6 1274.0L2126.6 1274.3L2128.7 1270.7L2130.8 1270.0L2132.8 1269.0L2134.9 1274.4L2137.0 1279.1L2139.0 1276.3L2141.1 1276.4L2143.2 1279.7L2145.3 1280.4L2147.3 1280.7L2149.4 1279.9L2151.5 1277.0L2153.5 1278.3L2155.6 1282.9L2157.7 1280.4L2159.7 1285.2L2161.8 1284.3L2163.9 1284.9L2166.0 1283.9L2168.0 1283.2L2170.1 1282.4L2172.2 1279.1L2174.2 1281.0L2176.3 1280.6L2178.4 1281.4L2180.4 1283.6L2182.5 1283.0L2184.6 1284.2L2186.7 1286.0L2188.7 1288.5L2190.8 1292.5L2192.9 1292.6L2194.9 1298.1L2197.0 1298.8L2199.1 1300.1L2201.1 1298.5L2203.2 1299.8L2205.3 1299.5L2207.4 1296.3L2209.4 1301.7L2211.5 1303.2L2213.6 1301.8L2215.6 1302.8L2217.7 1306.1L2219.8 1304.4L2221.8 1301.2L2223.9 1302.9L2226.0 1303.4L2228.1 1305.5L2230.1 1304.0L2232.2 1311.1L2234.3 1309.4L2236.3 1310.6L2238.4 1310.3L2240.5 1313.3L2242.5 1312.8L2244.6 1313.4L2246.7 1317.0L2248.8 1320.0L2250.8 1316.6L2252.9 1317.7L2255.0 1314.4L2257.0 1315.1L2259.1 1320.4L2261.2 1318.6L2263.2 1323.4L2265.3 1322.7L2267.4 1325.3L2269.5 1323.0L2271.5 1323.9L2273.6 1327.1L2275.7 1325.6L2277.7 1325.3L2279.8 1324.5L2281.9 1325.8L2283.9 1322.9L2286.0 1323.5L2288.1 1325.2L2290.2 1324.3L2292.2 1324.7L2294.3 1325.8L2296.4 1325.8L2298.4 1326.0L2300.5 1329.3L2302.6 1329.0L2304.6 1330.6L2306.7 1329.9L2308.8 1330.4L2310.9 1330.1L2312.9 1332.3L2315.0 1327.0L2317.1 1326.7L2319.1 1326.2L2321.2 1326.5L2323.3 1328.2L2325.3 1328.0L2327.4 1332.9L2329.5 1330.0L2331.6 1331.6L2333.6 1329.1L2335.7 1328.2L2337.8 1328.3L2339.8 1323.0L2341.9 1326.3L2344.0 1324.3L2346.0 1325.1L2348.1 1329.4L2350.2 1331.8L2352.3 1328.7L2354.3 1327.2L2356.4 1322.4L2358.5 1324.4L2360.5 1329.2L2362.6 1330.8L2364.7 1333.2L2366.7 1332.3L2368.8 1333.6L2370.9 1332.9L2373.0 1331.2L2375.0 1329.5L2377.1 1327.4L2379.2 1334.1L2381.2 1333.1L2383.3 1334.9L2385.4 1338.1L2387.4 1334.6L2389.5 1338.9L2391.6 1339.6L2393.7 1340.9L2395.7 1342.0L2397.8 1340.0L2399.9 1335.7L2401.9 1337.4L2404.0 1339.9L2406.1 1342.4L2408.1 1342.6L2410.2 1344.6L2412.3 1348.5L2414.4 1345.9L2416.4 1343.0L2418.5 1338.1L2420.6 1343.3L2422.6 1337.4L2424.7 1343.1L2426.8 1348.0L2428.8 1344.3L2430.9 1344.8L2433.0 1342.6L2435.1 1346.6L2437.1 1342.5L2439.2 1346.7L2441.3 1348.6L2443.3 1348.8L2445.4 1351.9L2447.5 1347.2L2449.5 1347.6L2451.6 1349.9L2453.7 1352.5L2455.8 1356.9" fill="none" stroke="#127d12" stroke-width="10.3" stroke-linejoin="round" stroke-linecap="round"/><path d="M283.5 1279.5L285.5 1279.8L287.5 1279.9L289.5 1280.0L291.5 1279.9L293.5 1279.7L295.5 1279.6L297.5 1279.5L299.5 1279.6L301.5 1279.9L303.5 1280.5L305.5 1281.2L307.5 1282.1L309.5 1283.0L311.5 1284.0L313.5 1285.0L315.5 1286.0L317.5 1287.1L319.5 1288.1L321.5 1289.2L323.5 1290.3L325.5 1291.4L327.5 1292.4L329.5 1293.2L331.5 1293.8L333.5 1294.2L335.5 1294.3L337.5 1294.1L339.5 1293.7L341.5 1293.2L343.5 1292.5L345.5 1291.7L347.5 1290.7L349.5 1289.5L351.5 1288.1L353.5 1286.4L355.5 1284.3L357.5 1282.0L359.5 1279.6L361.5 1277.1L363.5 1274.6L365.5 1272.2L367.5 1270.0L369.5 1267.8L371.5 1265.7L373.5 1263.7L375.5 1261.7L377.5 1259.7L379.5 1257.7L381.5 1255.8L383.5 1253.8L385.5 1251.8L387.5 1249.8L389.5 1247.8L391.5 1245.8L393.5 1243.7L395.5 1241.7L397.5 1239.7L399.5 1237.7L401.5 1235.7L403.5 1233.8L405.5 1231.8L407.5 1229.8L409.5 1227.9L411.5 1225.9L413.5 1223.9L415.5 1221.9L417.5 1219.8L419.5 1217.7L421.5 1215.5L423.5 1213.3L425.5 1211.0L427.5 1208.6L429.5 1206.2L431.5 1203.7L433.5 1201.1L435.5 1198.3L437.5 1195.5L439.5 1192.4L441.5 1189.2L443.5 1185.9L445.5 1182.5L447.5 1179.1L449.5 1175.7L451.5 1172.4L453.5 1169.1L455.5 1166.0L457.5 1162.9L459.5 1159.9L461.5 1156.9L463.5 1153.9L465.5 1150.9L467.5 1147.8L469.5 1144.6L471.5 1141.3L473.5 1137.8L475.5 1134.2L477.5 1130.4L479.5 1126.5L481.5 1122.7L483.5 1119.0L485.5 1115.5L487.5 1112.3L489.5 1109.3L491.5 1106.6L493.5 1104.0L495.5 1101.6L497.5 1099.4L499.5 1097.2L501.5 1095.2L503.5 1093.2L505.5 1091.2L507.5 1089.4L509.5 1087.5L511.5 1085.7L513.5 1084.0L515.5 1082.2L517.5 1080.5L519.5 1078.8L521.5 1077.1L523.5 1075.5L525.5 1073.9L527.5 1072.4L529.5 1070.9L531.5 1069.4L533.5 1067.9L535.5 1066.5L537.5 1065.1L539.5 1063.6L541.5 1062.2L543.5 1060.8L545.5 1059.4L547.5 1057.9L549.5 1056.4L551.5 1054.9L553.5 1053.4L555.5 1051.8L557.5 1050.2L559.5 1048.6L561.5 1046.9L563.5 1045.2L565.5 1043.6L567.5 1041.9L569.5 1040.2L571.5 1038.4L573.5 1036.7L575.5 1034.9L577.5 1033.0L579.5 1031.2L581.5 1029.3L583.5 1027.3L585.5 1025.3L587.5 1023.3L589.5 1021.1L591.5 1018.9L593.5 1016.6L595.5 1014.2L597.5 1011.7L599.5 1009.1L601.5 1006.4L603.5 1003.7L605.5 1001.0L607.5 998.3L609.5 995.6L611.5 993.0L613.5 990.4L615.5 987.9L617.5 985.4L619.5 982.9L621.5 980.5L623.5 978.1L625.5 975.7L627.5 973.3L629.5 970.8L631.5 968.3L633.5 965.7L635.5 963.0L637.5 960.2L639.5 957.2L641.5 954.2L643.5 951.0L645.5 947.8L647.5 944.5L649.5 941.1L651.5 937.7L653.5 934.3L655.5 930.9L657.5 927.5L659.5 924.1L661.5 920.7L663.5 917.3L665.5 913.9L667.5 910.4L669.5 906.9L671.5 903.3L673.5 899.7L675.5 895.9L677.5 892.1L679.5 888.1L681.5 884.1L683.5 879.8L685.5 875.4L687.5 870.9L689.5 866.2L691.5 861.5L693.5 856.7L695.5 851.9L697.5 847.1L699.5 842.3L701.5 837.5L703.5 832.6L705.5 827.6L707.5 822.6L709.5 817.4L711.5 812.1L713.5 806.6L715.5 801.1L717.5 795.4L719.5 789.6L721.5 783.8L723.5 777.8L725.5 771.6L727.5 765.4L729.5 759.0L731.5 752.5L733.5 745.8L735.5 738.9L737.5 731.9L739.5 724.8L741.5 717.7L743.5 710.5L745.5 703.3L747.5 696.1L749.5 688.8L751.5 681.6L753.5 674.3L755.5 667.0L757.5 659.5L759.5 652.0L761.5 644.3L763.5 636.4L765.5 628.4L767.5 620.3L769.5 612.1L771.5 603.8L773.5 595.6L775.5 587.5L777.5 579.5L779.5 571.7L781.5 564.0L783.5 556.4L785.5 548.9L787.5 541.6L789.5 534.4L791.5 527.4L793.5 520.5L795.5 513.7L797.5 507.0L799.5 500.6L801.5 494.5L803.5 488.9L805.5 483.8L807.5 479.4L809.5 475.4L811.5 472.0L813.5 468.9L815.5 466.0L817.5 463.2L819.5 460.6L821.5 458.0L823.5 455.6L825.5 453.5L827.5 451.8L829.5 450.6L831.5 449.7L833.5 449.1L835.5 448.7L837.5 448.4L839.5 448.2L841.5 448.2L843.5 448.2L845.5 448.4L847.5 448.7L849.5 449.2L851.5 449.7L853.5 450.3L855.5 450.9L857.5 451.7L859.5 452.5L861.5 453.4L863.5 454.4L865.5 455.5L867.5 456.7L869.5 458.0L871.5 459.4L873.5 461.1L875.5 462.9L877.5 464.9L879.5 467.2L881.5 469.6L883.5 472.2L885.5 474.9L887.5 477.7L889.5 480.5L891.5 483.3L893.5 486.1L895.5 488.8L897.5 491.4L899.5 494.0L901.5 496.6L903.5 499.1L905.5 501.6L907.5 504.1L909.5 506.6L911.5 509.1L913.5 511.6L915.5 514.1L917.5 516.6L919.5 519.1L921.5 521.7L923.5 524.2L925.5 526.8L927.5 529.3L929.5 531.9L931.5 534.4L933.5 537.0L935.5 539.5L937.5 542.1L939.5 544.7L941.5 547.4L943.5 550.1L945.5 552.8L947.5 555.5L949.5 558.3L951.5 561.2L953.5 564.1L955.5 567.0L957.5 570.0L959.5 573.0L961.5 576.0L963.5 579.1L965.5 582.1L967.5 585.2L969.5 588.2L971.5 591.3L973.5 594.3L975.5 597.3L977.5 600.3L979.5 603.2L981.5 606.2L983.5 609.1L985.5 612.1L987.5 615.0L989.5 617.9L991.5 620.7L993.5 623.6L995.5 626.4L997.5 629.3L999.5 632.3L1001.5 635.4L1003.5 638.8L1005.5 642.4L1007.5 646.2L1009.5 650.1L1011.5 653.9L1013.5 657.6L1015.5 661.1L1017.5 664.3L1019.5 667.2L1021.5 669.8L1023.5 672.4L1025.5 674.8L1027.5 677.1L1029.5 679.4L1031.5 681.8L1033.5 684.2L1035.5 686.8L1037.5 689.5L1039.5 692.4L1041.5 695.4L1043.5 698.6L1045.5 701.9L1047.5 705.3L1049.5 708.7L1051.5 712.1L1053.5 715.5L1055.5 718.8L1057.5 722.1L1059.5 725.2L1061.5 728.3L1063.5 731.4L1065.5 734.4L1067.5 737.3L1069.5 740.2L1071.5 743.1L1073.5 746.0L1075.5 748.9L1077.5 751.7L1079.5 754.6L1081.5 757.5L1083.5 760.4L1085.5 763.3L1087.5 766.2L1089.5 769.1L1091.5 772.1L1093.5 775.0L1095.5 778.0L1097.5 781.0L1099.5 784.0L1101.5 787.1L1103.5 790.2L1105.5 793.3L1107.5 796.4L1109.5 799.5L1111.5 802.5L1113.5 805.6L1115.5 808.6L1117.5 811.6L1119.5 814.6L1121.5 817.5L1123.5 820.4L1125.5 823.4L1127.5 826.2L1129.5 829.1L1131.5 831.9L1133.5 834.7L1135.5 837.3L1137.5 839.9L1139.5 842.5L1141.5 844.9L1143.5 847.2L1145.5 849.5L1147.5 851.8L1149.5 854.1L1151.5 856.6L1153.5 859.2L1155.5 862.0L1157.5 865.0L1159.5 868.2L1161.5 871.3L1163.5 874.3L1165.5 877.3L1167.5 880.2L1169.5 883.0L1171.5 885.7L1173.5 888.4L1175.5 891.1L1177.5 893.7L1179.5 896.3L1181.5 898.9L1183.5 901.5L1185.5 904.2L1187.5 906.8L1189.5 909.5L1191.5 912.2L1193.5 914.9L1195.5 917.6L1197.5 920.4L1199.5 923.1L1201.5 925.8L1203.5 928.5L1205.5 931.1L1207.5 933.7L1209.5 936.1L1211.5 938.5L1213.5 940.8L1215.5 942.9L1217.5 945.0L1219.5 946.9L1221.5 948.7L1223.5 950.5L1225.5 952.1L1227.5 953.8L1229.5 955.4L1231.5 957.0L1233.5 958.6L1235.5 960.2L1237.5 961.9L1239.5 963.6L1241.5 965.4L1243.5 967.3L1245.5 969.2L1247.5 971.3L1249.5 973.4L1251.5 975.6L1253.5 977.8L1255.5 980.1L1257.5 982.4L1259.5 984.7L1261.5 986.9L1263.5 989.2L1265.5 991.4L1267.5 993.5L1269.5 995.6L1271.5 997.7L1273.5 999.6L1275.5 1001.6L1277.5 1003.5L1279.5 1005.4L1281.5 1007.3L1283.5 1009.3L1285.5 1011.3L1287.5 1013.4L1289.5 1015.4L1291.5 1017.5L1293.5 1019.6L1295.5 1021.8L1297.5 1023.9L1299.5 1026.0L1301.5 1028.2L1303.5 1030.3L1305.5 1032.4L1307.5 1034.5L1309.5 1036.5L1311.5 1038.5L1313.5 1040.4L1315.5 1042.3L1317.5 1044.1L1319.5 1046.0L1321.5 1047.8L1323.5 1049.6L1325.5 1051.4L1327.5 1053.1L1329.5 1054.9L1331.5 1056.6L1333.5 1058.3L1335.5 1060.0L1337.5 1061.7L1339.5 1063.4L1341.5 1065.1L1343.5 1066.7L1345.5 1068.4L1347.5 1070.0L1349.5 1071.7L1351.5 1073.3L1353.5 1074.9L1355.5 1076.4L1357.5 1078.0L1359.5 1079.6L1361.5 1081.1L1363.5 1082.6L1365.5 1084.1L1367.5 1085.6L1369.5 1087.1L1371.5 1088.5L1373.5 1089.9L1375.5 1091.3L1377.5 1092.7L1379.5 1094.1L1381.5 1095.5L1383.5 1096.9L1385.5 1098.2L1387.5 1099.6L1389.5 1101.0L1391.5 1102.4L1393.5 1103.8L1395.5 1105.2L1397.5 1106.6L1399.5 1108.0L1401.5 1109.4L1403.5 1110.8L1405.5 1112.3L1407.5 1113.7L1409.5 1115.1L1411.5 1116.5L1413.5 1117.9L1415.5 1119.3L1417.5 1120.7L1419.5 1122.0L1421.5 1123.3L1423.5 1124.7L1425.5 1126.0L1427.5 1127.2L1429.5 1128.5L1431.5 1129.8L1433.5 1131.0L1435.5 1132.3L1437.5 1133.5L1439.5 1134.7L1441.5 1135.9L1443.5 1137.0L1445.5 1138.1L1447.5 1139.3L1449.5 1140.3L1451.5 1141.4L1453.5 1142.4L1455.5 1143.4L1457.5 1144.4L1459.5 1145.4L1461.5 1146.3L1463.5 1147.3L1465.5 1148.2L1467.5 1149.1L1469.5 1149.9L1471.5 1150.7L1473.5 1151.5L1475.5 1152.2L1477.5 1153.0L1479.5 1154.0L1481.5 1155.3L1483.5 1155.2L1485.5 1157.1L1487.0 1159.4L1489.1 1161.5L1491.1 1166.6L1493.2 1165.2L1495.3 1163.6L1497.3 1163.5L1499.4 1168.2L1501.5 1182.0L1503.6 1196.5L1505.6 1206.5L1507.7 1201.0L1509.8 1198.2L1511.8 1204.5L1513.9 1206.7L1516.0 1219.8L1518.0 1221.8L1520.1 1216.5L1522.2 1217.8L1524.3 1213.7L1526.3 1204.9L1528.4 1210.8L1530.5 1211.8L1532.5 1204.3L1534.6 1202.5L1536.7 1199.0L1538.7 1199.5L1540.8 1198.1L1542.9 1203.2L1545.0 1197.9L1547.0 1205.6L1549.1 1207.6L1551.2 1210.4L1553.2 1208.9L1555.3 1208.0L1557.4 1211.9L1559.4 1217.5L1561.5 1220.5L1563.6 1211.4L1565.7 1204.4L1567.7 1198.6L1569.8 1209.8L1571.9 1214.2L1573.9 1214.0L1576.0 1218.3L1578.1 1217.3L1580.1 1224.6L1582.2 1223.8L1584.3 1223.2L1586.4 1225.1L1588.4 1225.9L1590.5 1227.1L1592.6 1228.8L1594.6 1232.3L1596.7 1230.6L1598.8 1234.1L1600.8 1236.4L1602.9 1226.1L1605.0 1236.1L1607.1 1242.5L1609.1 1245.0L1611.2 1252.0L1613.3 1243.4L1615.3 1242.8L1617.4 1233.0L1619.5 1233.5L1621.5 1242.6L1623.6 1247.9L1625.7 1252.6L1627.8 1254.2L1629.8 1255.0L1631.9 1250.9L1634.0 1253.1L1636.0 1252.1L1638.1 1251.1L1640.2 1248.4L1642.2 1243.0L1644.3 1247.8L1646.4 1249.1L1648.5 1253.3L1650.5 1258.1L1652.6 1266.2L1654.7 1260.4L1656.7 1259.6L1658.8 1258.4L1660.9 1262.2L1662.9 1262.9L1665.0 1260.0L1667.1 1260.9L1669.2 1262.2L1671.2 1260.1L1673.3 1270.0L1675.4 1270.6L1677.4 1268.4L1679.5 1264.1L1681.6 1265.7L1683.6 1273.2L1685.7 1278.0L1687.8 1268.3L1689.9 1267.7L1691.9 1272.6L1694.0 1280.3L1696.1 1284.8L1698.1 1277.4L1700.2 1279.4L1702.3 1271.2L1704.3 1268.7L1706.4 1270.5L1708.5 1268.5L1710.6 1269.2L1712.6 1266.7L1714.7 1271.4L1716.8 1273.2L1718.8 1274.0L1720.9 1270.3L1723.0 1270.7L1725.0 1267.3L1727.1 1270.6L1729.2 1273.3L1731.3 1278.7L1733.3 1278.9L1735.4 1277.7L1737.5 1279.0L1739.5 1284.1L1741.6 1284.4L1743.7 1287.1L1745.7 1288.6L1747.8 1289.6L1749.9 1284.6L1752.0 1288.2L1754.0 1288.4L1756.1 1289.7L1758.2 1293.9L1760.2 1293.0L1762.3 1291.3L1764.4 1294.4L1766.4 1292.3L1768.5 1288.0L1770.6 1295.8L1772.7 1295.7L1774.7 1295.2L1776.8 1297.3L1778.9 1296.3L1780.9 1295.6L1783.0 1295.6L1785.1 1300.8L1787.1 1303.1L1789.2 1297.1L1791.3 1300.9L1793.4 1301.2L1795.4 1300.5L1797.5 1302.5L1799.6 1302.9L1801.6 1303.0L1803.7 1304.7L1805.8 1308.5L1807.8 1305.3L1809.9 1309.5L1812.0 1310.9L1814.1 1311.1L1816.1 1313.1L1818.2 1314.1L1820.3 1317.5L1822.3 1317.0L1824.4 1315.2L1826.5 1310.9L1828.5 1316.2L1830.6 1312.7L1832.7 1316.0L1834.8 1315.9L1836.8 1316.1L1838.9 1319.4L1841.0 1316.9L1843.0 1320.1L1845.1 1320.1L1847.2 1316.9L1849.2 1320.5L1851.3 1320.4L1853.4 1328.3L1855.5 1325.9L1857.5 1327.5L1859.6 1327.9L1861.7 1330.2L1863.7 1332.5L1865.8 1333.1L1867.9 1333.8L1869.9 1334.2L1872.0 1332.5L1874.1 1333.2L1876.2 1329.2L1878.2 1332.2L1880.3 1332.6L1882.4 1332.7L1884.4 1333.9L1886.5 1335.2L1888.6 1338.5L1890.6 1336.9L1892.7 1335.6L1894.8 1336.7L1896.9 1335.5L1898.9 1334.0L1901.0 1335.8L1903.1 1334.9L1905.1 1338.2L1907.2 1339.0L1909.3 1338.3L1911.3 1337.2L1913.4 1341.7L1915.5 1339.6L1917.6 1344.5L1919.6 1338.7L1921.7 1342.4L1923.8 1341.8L1925.8 1344.3L1927.9 1346.6L1930.0 1345.5L1932.0 1345.7L1934.1 1345.1L1936.2 1344.0L1938.3 1343.8L1940.3 1344.5L1942.4 1345.8L1944.5 1346.5L1946.5 1347.0L1948.6 1346.8L1950.7 1347.7L1952.7 1348.3L1954.8 1350.3L1956.9 1348.7L1959.0 1347.3L1961.0 1350.3L1963.1 1347.9L1965.2 1349.2L1967.2 1351.9L1969.3 1354.8L1971.4 1350.2L1973.4 1351.9L1975.5 1353.5L1977.6 1352.2L1979.7 1352.1L1981.7 1353.3L1983.8 1356.9L1985.9 1354.5L1987.9 1356.8L1990.0 1357.5L1992.1 1356.0L1994.1 1357.8L1996.2 1355.7L1998.3 1355.1L2000.4 1354.0L2002.4 1357.2L2004.5 1355.6L2006.6 1356.1L2008.6 1356.0L2010.7 1361.4L2012.8 1360.4L2014.8 1358.9L2016.9 1357.9L2019.0 1356.1L2021.1 1358.7L2023.1 1359.1L2025.2 1356.7L2027.3 1361.3L2029.3 1361.0L2031.4 1358.8L2033.5 1359.9L2035.5 1360.6L2037.6 1362.1L2039.7 1362.1L2041.8 1359.0L2043.8 1362.5L2045.9 1359.2L2048.0 1360.6L2050.0 1360.7L2052.1 1358.5L2054.2 1359.7L2056.2 1360.1L2058.3 1359.8L2060.4 1358.0L2062.5 1356.9L2064.5 1357.8L2066.6 1358.4L2068.7 1360.7L2070.7 1360.2L2072.8 1365.4L2074.9 1365.5L2076.9 1367.5L2079.0 1368.8L2081.1 1369.8L2083.2 1372.6L2085.2 1369.5L2087.3 1366.5L2089.4 1368.7L2091.4 1368.3L2093.5 1370.6L2095.6 1369.6L2097.6 1370.3L2099.7 1371.4L2101.8 1371.3L2103.9 1368.8L2105.9 1370.1L2108.0 1370.6L2110.1 1373.4L2112.1 1373.3L2114.2 1375.4L2116.3 1379.1L2118.3 1379.7L2120.4 1380.8L2122.5 1378.5L2124.6 1376.9L2126.6 1378.4L2128.7 1380.1L2130.8 1379.1L2132.8 1381.7L2134.9 1375.0L2137.0 1373.2L2139.0 1372.0L2141.1 1374.8L2143.2 1376.1L2145.3 1378.4L2147.3 1380.4L2149.4 1383.3L2151.5 1383.7L2153.5 1383.2L2155.6 1382.9L2157.7 1387.8L2159.7 1389.0L2161.8 1385.7L2163.9 1386.8L2166.0 1383.0L2168.0 1382.4L2170.1 1383.8L2172.2 1386.3L2174.2 1382.2L2176.3 1382.4L2178.4 1386.2L2180.4 1380.5L2182.5 1388.0L2184.6 1392.6L2186.7 1395.1L2188.7 1391.9L2190.8 1392.0L2192.9 1387.9L2194.9 1393.3L2197.0 1397.4L2199.1 1397.9L2201.1 1394.7L2203.2 1397.3L2205.3 1393.0L2207.4 1387.7L2209.4 1387.3L2211.5 1390.3L2213.6 1391.6L2215.6 1390.0L2217.7 1393.5L2219.8 1395.5L2221.8 1397.3L2223.9 1398.8L2226.0 1395.3L2228.1 1401.2L2230.1 1399.0L2232.2 1403.6L2234.3 1407.3L2236.3 1404.5L2238.4 1404.8L2240.5 1408.3L2242.5 1405.9L2244.6 1404.7L2246.7 1402.9L2248.8 1406.3L2250.8 1402.0L2252.9 1403.6L2255.0 1408.7L2257.0 1411.2L2259.1 1416.8L2261.2 1418.3L2263.2 1414.9L2265.3 1415.1L2267.4 1410.7L2269.5 1414.3L2271.5 1416.9L2273.6 1416.0L2275.7 1417.4L2277.7 1420.5L2279.8 1422.2L2281.9 1419.7L2283.9 1418.9L2286.0 1418.9L2288.1 1421.1L2290.2 1423.3L2292.2 1422.7L2294.3 1422.5L2296.4 1421.5L2298.4 1418.3L2300.5 1417.5L2302.6 1415.9L2304.6 1412.7L2306.7 1412.3L2308.8 1413.5L2310.9 1419.1L2312.9 1419.1L2315.0 1417.4L2317.1 1419.4L2319.1 1421.4L2321.2 1417.6L2323.3 1412.1L2325.3 1410.5L2327.4 1405.1L2329.5 1410.7L2331.6 1415.2L2333.6 1413.1L2335.7 1410.3L2337.8 1408.3L2339.8 1405.8L2341.9 1405.8L2344.0 1410.2L2346.0 1415.0L2348.1 1414.3L2350.2 1415.4L2352.3 1416.2L2354.3 1414.6L2356.4 1416.3L2358.5 1413.5L2360.5 1412.9L2362.6 1419.1L2364.7 1415.6L2366.7 1418.1L2368.8 1419.2L2370.9 1419.0L2373.0 1417.7L2375.0 1418.0L2377.1 1416.4L2379.2 1413.5L2381.2 1414.7L2383.3 1414.9L2385.4 1417.0L2387.4 1419.5L2389.5 1420.3L2391.6 1425.3L2393.7 1425.2L2395.7 1417.7L2397.8 1419.8L2399.9 1417.5L2401.9 1414.1L2404.0 1418.4L2406.1 1416.3L2408.1 1416.2L2410.2 1415.3L2412.3 1417.5L2414.4 1417.3L2416.4 1415.2L2418.5 1418.9L2420.6 1420.6L2422.6 1424.3L2424.7 1423.7L2426.8 1424.2L2428.8 1422.4L2430.9 1423.8L2433.0 1424.9L2435.1 1424.6L2437.1 1426.5L2439.2 1429.4L2441.3 1422.1L2443.3 1425.8L2445.4 1427.2L2447.5 1429.6L2449.5 1430.3L2451.6 1434.7L2453.7 1436.3L2455.8 1433.6" fill="none" stroke="#9445e6" stroke-width="10.3" stroke-linejoin="round" stroke-linecap="round"/><path d="M283.5 1555.8L285.5 1555.7L287.5 1555.5L289.5 1555.3L291.5 1555.1L293.5 1554.9L295.5 1554.7L297.5 1554.5L299.5 1554.4L301.5 1554.2L303.5 1554.1L305.5 1553.9L307.5 1553.8L309.5 1553.7L311.5 1553.6L313.5 1553.5L315.5 1553.4L317.5 1553.2L319.5 1553.1L321.5 1553.0L323.5 1552.8L325.5 1552.6L327.5 1552.4L329.5 1552.2L331.5 1551.9L333.5 1551.6L335.5 1551.3L337.5 1551.0L339.5 1550.6L341.5 1550.2L343.5 1549.8L345.5 1549.3L347.5 1548.7L349.5 1548.1L351.5 1547.4L353.5 1546.7L355.5 1545.9L357.5 1545.0L359.5 1544.1L361.5 1543.2L363.5 1542.1L365.5 1541.1L367.5 1539.9L369.5 1538.7L371.5 1537.4L373.5 1536.2L375.5 1534.9L377.5 1533.6L379.5 1532.4L381.5 1531.1L383.5 1529.9L385.5 1528.7L387.5 1527.4L389.5 1526.1L391.5 1524.8L393.5 1523.3L395.5 1521.8L397.5 1520.3L399.5 1518.7L401.5 1517.1L403.5 1515.5L405.5 1514.0L407.5 1512.6L409.5 1511.2L411.5 1509.9L413.5 1508.7L415.5 1507.5L417.5 1506.3L419.5 1505.0L421.5 1503.7L423.5 1502.2L425.5 1500.7L427.5 1499.1L429.5 1497.3L431.5 1495.6L433.5 1493.8L435.5 1492.0L437.5 1490.1L439.5 1488.3L441.5 1486.5L443.5 1484.6L445.5 1482.8L447.5 1481.0L449.5 1479.2L451.5 1477.5L453.5 1475.8L455.5 1474.1L457.5 1472.5L459.5 1471.0L461.5 1469.4L463.5 1467.9L465.5 1466.3L467.5 1464.7L469.5 1463.0L471.5 1461.2L473.5 1459.4L475.5 1457.6L477.5 1455.7L479.5 1453.8L481.5 1452.0L483.5 1450.2L485.5 1448.5L487.5 1446.9L489.5 1445.4L491.5 1443.9L493.5 1442.5L495.5 1441.1L497.5 1439.7L499.5 1438.3L501.5 1437.0L503.5 1435.6L505.5 1434.2L507.5 1432.8L509.5 1431.5L511.5 1430.1L513.5 1428.8L515.5 1427.4L517.5 1426.0L519.5 1424.6L521.5 1423.2L523.5 1421.7L525.5 1420.2L527.5 1418.6L529.5 1417.1L531.5 1415.6L533.5 1414.1L535.5 1412.8L537.5 1411.5L539.5 1410.3L541.5 1409.2L543.5 1408.2L545.5 1407.2L547.5 1406.3L549.5 1405.3L551.5 1404.3L553.5 1403.2L555.5 1402.1L557.5 1400.9L559.5 1399.7L561.5 1398.3L563.5 1396.9L565.5 1395.5L567.5 1393.9L569.5 1392.3L571.5 1390.7L573.5 1388.9L575.5 1387.1L577.5 1385.3L579.5 1383.3L581.5 1381.3L583.5 1379.3L585.5 1377.3L587.5 1375.4L589.5 1373.5L591.5 1371.7L593.5 1369.9L595.5 1368.2L597.5 1366.5L599.5 1364.8L601.5 1363.0L603.5 1361.2L605.5 1359.2L607.5 1357.2L609.5 1355.1L611.5 1352.8L613.5 1350.6L615.5 1348.3L617.5 1346.0L619.5 1343.7L621.5 1341.5L623.5 1339.3L625.5 1337.2L627.5 1335.0L629.5 1332.7L631.5 1330.4L633.5 1328.0L635.5 1325.4L637.5 1322.8L639.5 1320.1L641.5 1317.5L643.5 1314.8L645.5 1312.2L647.5 1309.7L649.5 1307.3L651.5 1304.9L653.5 1302.5L655.5 1300.0L657.5 1297.3L659.5 1294.6L661.5 1291.6L663.5 1288.6L665.5 1285.5L667.5 1282.4L669.5 1279.2L671.5 1276.2L673.5 1273.1L675.5 1270.1L677.5 1267.1L679.5 1264.0L681.5 1260.8L683.5 1257.5L685.5 1254.2L687.5 1250.7L689.5 1247.2L691.5 1243.5L693.5 1239.9L695.5 1236.1L697.5 1232.3L699.5 1228.5L701.5 1224.6L703.5 1220.6L705.5 1216.6L707.5 1212.5L709.5 1208.4L711.5 1204.2L713.5 1199.9L715.5 1195.6L717.5 1191.1L719.5 1186.6L721.5 1182.0L723.5 1177.4L725.5 1172.7L727.5 1168.2L729.5 1163.7L731.5 1159.1L733.5 1154.5L735.5 1149.5L737.5 1144.3L739.5 1138.8L741.5 1133.2L743.5 1127.6L745.5 1122.0L747.5 1116.5L749.5 1111.0L751.5 1105.5L753.5 1099.9L755.5 1094.2L757.5 1088.5L759.5 1082.8L761.5 1077.2L763.5 1071.7L765.5 1066.3L767.5 1061.1L769.5 1056.0L771.5 1051.1L773.5 1046.3L775.5 1041.6L777.5 1036.9L779.5 1032.2L781.5 1027.7L783.5 1023.2L785.5 1019.0L787.5 1014.9L789.5 1011.0L791.5 1007.3L793.5 1003.8L795.5 1000.5L797.5 997.3L799.5 994.3L801.5 991.4L803.5 988.8L805.5 986.3L807.5 984.0L809.5 981.9L811.5 980.0L813.5 978.3L815.5 976.9L817.5 975.7L819.5 974.8L821.5 974.1L823.5 973.5L825.5 973.2L827.5 973.0L829.5 973.1L831.5 973.4L833.5 974.0L835.5 974.7L837.5 975.5L839.5 976.6L841.5 977.7L843.5 979.1L845.5 980.5L847.5 982.2L849.5 984.0L851.5 985.9L853.5 988.0L855.5 990.2L857.5 992.4L859.5 994.6L861.5 996.9L863.5 999.0L865.5 1001.2L867.5 1003.3L869.5 1005.4L871.5 1007.6L873.5 1009.8L875.5 1012.1L877.5 1014.6L879.5 1017.1L881.5 1019.8L883.5 1022.5L885.5 1025.3L887.5 1028.2L889.5 1031.0L891.5 1033.8L893.5 1036.7L895.5 1039.5L897.5 1042.4L899.5 1045.3L901.5 1048.2L903.5 1051.1L905.5 1054.0L907.5 1056.9L909.5 1059.9L911.5 1062.9L913.5 1066.0L915.5 1069.2L917.5 1072.4L919.5 1075.6L921.5 1078.7L923.5 1081.8L925.5 1084.9L927.5 1087.9L929.5 1090.8L931.5 1093.7L933.5 1096.5L935.5 1099.3L937.5 1102.1L939.5 1104.9L941.5 1107.6L943.5 1110.3L945.5 1113.1L947.5 1115.8L949.5 1118.5L951.5 1121.3L953.5 1124.0L955.5 1126.8L957.5 1129.6L959.5 1132.3L961.5 1135.1L963.5 1137.9L965.5 1140.7L967.5 1143.5L969.5 1146.4L971.5 1149.3L973.5 1152.2L975.5 1155.1L977.5 1158.0L979.5 1160.9L981.5 1163.8L983.5 1166.7L985.5 1169.6L987.5 1172.5L989.5 1175.3L991.5 1178.1L993.5 1181.0L995.5 1183.8L997.5 1186.5L999.5 1189.3L1001.5 1192.0L1003.5 1194.6L1005.5 1197.2L1007.5 1199.7L1009.5 1202.2L1011.5 1204.7L1013.5 1207.1L1015.5 1209.5L1017.5 1212.0L1019.5 1214.4L1021.5 1216.9L1023.5 1219.3L1025.5 1221.8L1027.5 1224.2L1029.5 1226.6L1031.5 1229.0L1033.5 1231.4L1035.5 1233.7L1037.5 1236.1L1039.5 1238.3L1041.5 1240.6L1043.5 1242.9L1045.5 1245.1L1047.5 1247.3L1049.5 1249.5L1051.5 1251.6L1053.5 1253.8L1055.5 1256.1L1057.5 1258.3L1059.5 1260.6L1061.5 1262.9L1063.5 1265.2L1065.5 1267.5L1067.5 1269.8L1069.5 1272.0L1071.5 1274.1L1073.5 1276.2L1075.5 1278.2L1077.5 1280.2L1079.5 1282.1L1081.5 1284.0L1083.5 1285.9L1085.5 1287.8L1087.5 1289.7L1089.5 1291.5L1091.5 1293.3L1093.5 1295.1L1095.5 1296.9L1097.5 1298.7L1099.5 1300.5L1101.5 1302.2L1103.5 1304.0L1105.5 1305.8L1107.5 1307.5L1109.5 1309.2L1111.5 1311.0L1113.5 1312.7L1115.5 1314.4L1117.5 1316.1L1119.5 1317.8L1121.5 1319.5L1123.5 1321.2L1125.5 1322.9L1127.5 1324.5L1129.5 1326.2L1131.5 1327.9L1133.5 1329.6L1135.5 1331.4L1137.5 1333.2L1139.5 1335.0L1141.5 1336.9L1143.5 1338.7L1145.5 1340.5L1147.5 1342.3L1149.5 1344.1L1151.5 1345.8L1153.5 1347.5L1155.5 1349.1L1157.5 1350.8L1159.5 1352.4L1161.5 1353.9L1163.5 1355.5L1165.5 1357.0L1167.5 1358.6L1169.5 1360.1L1171.5 1361.6L1173.5 1363.0L1175.5 1364.5L1177.5 1365.9L1179.5 1367.3L1181.5 1368.7L1183.5 1370.1L1185.5 1371.5L1187.5 1372.8L1189.5 1374.1L1191.5 1375.4L1193.5 1376.7L1195.5 1378.0L1197.5 1379.2L1199.5 1380.3L1201.5 1381.4L1203.5 1382.5L1205.5 1383.5L1207.5 1384.5L1209.5 1385.5L1211.5 1386.5L1213.5 1387.5L1215.5 1388.5L1217.5 1389.6L1219.5 1390.7L1221.5 1391.8L1223.5 1393.0L1225.5 1394.2L1227.5 1395.4L1229.5 1396.7L1231.5 1398.0L1233.5 1399.3L1235.5 1400.5L1237.5 1401.8L1239.5 1403.1L1241.5 1404.3L1243.5 1405.5L1245.5 1406.7L1247.5 1407.9L1249.5 1409.0L1251.5 1410.1L1253.5 1411.1L1255.5 1412.1L1257.5 1413.1L1259.5 1414.1L1261.5 1415.1L1263.5 1416.0L1265.5 1417.0L1267.5 1417.9L1269.5 1418.8L1271.5 1419.8L1273.5 1420.7L1275.5 1421.6L1277.5 1422.5L1279.5 1423.4L1281.5 1424.3L1283.5 1425.2L1285.5 1426.1L1287.5 1427.1L1289.5 1428.0L1291.5 1428.9L1293.5 1429.8L1295.5 1430.7L1297.5 1431.7L1299.5 1432.6L1301.5 1433.5L1303.5 1434.4L1305.5 1435.2L1307.5 1436.1L1309.5 1437.0L1311.5 1437.8L1313.5 1438.7L1315.5 1439.5L1317.5 1440.3L1319.5 1441.1L1321.5 1441.9L1323.5 1442.7L1325.5 1443.5L1327.5 1444.3L1329.5 1445.1L1331.5 1445.8L1333.5 1446.6L1335.5 1447.4L1337.5 1448.1L1339.5 1448.8L1341.5 1449.6L1343.5 1450.3L1345.5 1451.0L1347.5 1451.7L1349.5 1452.4L1351.5 1453.1L1353.5 1453.7L1355.5 1454.4L1357.5 1455.1L1359.5 1455.7L1361.5 1456.3L1363.5 1457.0L1365.5 1457.6L1367.5 1458.2L1369.5 1458.8L1371.5 1459.4L1373.5 1460.0L1375.5 1460.6L1377.5 1461.1L1379.5 1461.7L1381.5 1462.3L1383.5 1462.9L1385.5 1463.4L1387.5 1464.0L1389.5 1464.6L1391.5 1465.2L1393.5 1465.7L1395.5 1466.3L1397.5 1466.8L1399.5 1467.4L1401.5 1468.0L1403.5 1468.5L1405.5 1469.1L1407.5 1469.6L1409.5 1470.2L1411.5 1470.7L1413.5 1471.3L1415.5 1471.8L1417.5 1472.3L1419.5 1472.9L1421.5 1473.4L1423.5 1473.9L1425.5 1474.5L1427.5 1475.0L1429.5 1475.5L1431.5 1476.1L1433.5 1476.6L1435.5 1477.1L1437.5 1477.6L1439.5 1478.1L1441.5 1478.7L1443.5 1479.2L1445.5 1479.7L1447.5 1480.2L1449.5 1480.7L1451.5 1481.2L1453.5 1481.7L1455.5 1482.2L1457.5 1482.7L1459.5 1483.3L1461.5 1483.8L1463.5 1484.3L1465.5 1484.9L1467.5 1485.5L1469.5 1486.1L1471.5 1486.7L1473.5 1487.3L1475.5 1487.8L1477.5 1488.1L1479.5 1488.2L1481.5 1487.9L1483.5 1489.0L1485.5 1487.0L1487.0 1477.2L1489.1 1480.1L1491.1 1481.3L1493.2 1482.6L1495.3 1492.3L1497.3 1501.4L1499.4 1506.5L1501.5 1504.5L1503.6 1512.9L1505.6 1507.7L1507.7 1517.5L1509.8 1511.3L1511.8 1510.8L1513.9 1510.9L1516.0 1509.2L1518.0 1514.8L1520.1 1516.4L1522.2 1511.1L1524.3 1509.0L1526.3 1505.2L1528.4 1506.1L1530.5 1508.1L1532.5 1507.2L1534.6 1506.9L1536.7 1508.0L1538.7 1510.7L1540.8 1505.6L1542.9 1508.0L1545.0 1516.4L1547.0 1513.8L1549.1 1507.7L1551.2 1512.2L1553.2 1506.3L1555.3 1509.8L1557.4 1506.6L1559.4 1517.4L1561.5 1516.3L1563.6 1520.5L1565.7 1517.7L1567.7 1513.9L1569.8 1512.3L1571.9 1513.7L1573.9 1507.3L1576.0 1505.0L1578.1 1503.4L1580.1 1504.1L1582.2 1504.5L1584.3 1507.8L1586.4 1501.5L1588.4 1506.2L1590.5 1500.0L1592.6 1504.3L1594.6 1503.1L1596.7 1509.1L1598.8 1505.6L1600.8 1501.3L1602.9 1504.0L1605.0 1502.7L1607.1 1501.7L1609.1 1504.7L1611.2 1505.5L1613.3 1520.3L1615.3 1512.5L1617.4 1514.3L1619.5 1506.4L1621.5 1506.2L1623.6 1512.5L1625.7 1515.6L1627.8 1521.8L1629.8 1518.7L1631.9 1523.6L1634.0 1526.7L1636.0 1518.9L1638.1 1524.6L1640.2 1518.6L1642.2 1523.1L1644.3 1523.7L1646.4 1528.7L1648.5 1520.8L1650.5 1522.2L1652.6 1523.7L1654.7 1515.3L1656.7 1518.8L1658.8 1517.9L1660.9 1520.3L1662.9 1526.6L1665.0 1528.3L1667.1 1535.2L1669.2 1532.4L1671.2 1532.7L1673.3 1527.6L1675.4 1526.7L1677.4 1527.6L1679.5 1520.9L1681.6 1534.8L1683.6 1529.0L1685.7 1528.9L1687.8 1531.6L1689.9 1536.5L1691.9 1538.3L1694.0 1533.7L1696.1 1536.8L1698.1 1535.4L1700.2 1532.6L1702.3 1536.4L1704.3 1536.0L1706.4 1531.2L1708.5 1540.2L1710.6 1532.7L1712.6 1539.1L1714.7 1535.9L1716.8 1537.5L1718.8 1538.6L1720.9 1542.6L1723.0 1536.1L1725.0 1539.0L1727.1 1543.9L1729.2 1536.6L1731.3 1539.3L1733.3 1543.1L1735.4 1540.9L1737.5 1545.9L1739.5 1543.1L1741.6 1547.7L1743.7 1546.3L1745.7 1543.9L1747.8 1551.7L1749.9 1547.9L1752.0 1548.1L1754.0 1546.8L1756.1 1549.0L1758.2 1550.9L1760.2 1552.2L1762.3 1555.3L1764.4 1548.1L1766.4 1551.1L1768.5 1555.7L1770.6 1552.4L1772.7 1553.4L1774.7 1557.7L1776.8 1554.6L1778.9 1555.7L1780.9 1553.4L1783.0 1557.9L1785.1 1555.0L1787.1 1549.9L1789.2 1554.0L1791.3 1549.2L1793.4 1556.1L1795.4 1555.2L1797.5 1553.0L1799.6 1552.8L1801.6 1549.2L1803.7 1557.4L1805.8 1553.4L1807.8 1551.4L1809.9 1553.1L1812.0 1547.5L1814.1 1546.3L1816.1 1546.3L1818.2 1546.3L1820.3 1559.6L1822.3 1553.6L1824.4 1554.0L1826.5 1558.7L1828.5 1546.8L1830.6 1555.4L1832.7 1554.9L1834.8 1551.4L1836.8 1555.4L1838.9 1547.7L1841.0 1553.8L1843.0 1556.4L1845.1 1546.9L1847.2 1549.1L1849.2 1552.9L1851.3 1553.9L1853.4 1554.6L1855.5 1560.2L1857.5 1562.3L1859.6 1559.4L1861.7 1564.4L1863.7 1561.9L1865.8 1560.4L1867.9 1560.3L1869.9 1569.4L1872.0 1564.0L1874.1 1568.6L1876.2 1558.0L1878.2 1561.1L1880.3 1562.8L1882.4 1560.6L1884.4 1561.9L1886.5 1560.1L1888.6 1557.1L1890.6 1552.3L1892.7 1557.0L1894.8 1565.6L1896.9 1563.2L1898.9 1565.6L1901.0 1559.8L1903.1 1561.1L1905.1 1559.2L1907.2 1563.2L1909.3 1562.5L1911.3 1564.1L1913.4 1568.6L1915.5 1561.1L1917.6 1566.4L1919.6 1560.4L1921.7 1568.6L1923.8 1564.7L1925.8 1566.6L1927.9 1567.9L1930.0 1571.6L1932.0 1565.7L1934.1 1563.5L1936.2 1561.2L1938.3 1566.3L1940.3 1563.5L1942.4 1565.3L1944.5 1567.4L1946.5 1570.1L1948.6 1566.5L1950.7 1571.4L1952.7 1575.3L1954.8 1566.0L1956.9 1575.0L1959.0 1577.4L1961.0 1569.0L1963.1 1572.7L1965.2 1566.6L1967.2 1571.8L1969.3 1569.6L1971.4 1571.4L1973.4 1567.7L1975.5 1568.0L1977.6 1569.1L1979.7 1568.2L1981.7 1568.2L1983.8 1569.2L1985.9 1565.1L1987.9 1566.4L1990.0 1566.7L1992.1 1556.6L1994.1 1562.7L1996.2 1559.3L1998.3 1558.1L2000.4 1557.6L2002.4 1559.4L2004.5 1560.3L2006.6 1564.6L2008.6 1560.9L2010.7 1569.4L2012.8 1565.3L2014.8 1571.6L2016.9 1572.8L2019.0 1565.4L2021.1 1571.9L2023.1 1574.7L2025.2 1565.9L2027.3 1569.6L2029.3 1567.8L2031.4 1568.8L2033.5 1568.3L2035.5 1568.2L2037.6 1572.9L2039.7 1574.2L2041.8 1572.3L2043.8 1577.9L2045.9 1577.5L2048.0 1577.4L2050.0 1574.0L2052.1 1583.0L2054.2 1582.1L2056.2 1568.8L2058.3 1569.4L2060.4 1568.7L2062.5 1574.0L2064.5 1576.0L2066.6 1572.2L2068.7 1574.9L2070.7 1577.3L2072.8 1572.1L2074.9 1577.6L2076.9 1573.0L2079.0 1572.7L2081.1 1570.2L2083.2 1566.0L2085.2 1567.4L2087.3 1571.4L2089.4 1572.5L2091.4 1572.0L2093.5 1576.9L2095.6 1571.9L2097.6 1568.0L2099.7 1569.5L2101.8 1568.8L2103.9 1567.7L2105.9 1570.5L2108.0 1567.5L2110.1 1568.3L2112.1 1566.0L2114.2 1562.7L2116.3 1565.5L2118.3 1560.7L2120.4 1561.6L2122.5 1557.2L2124.6 1560.1L2126.6 1558.3L2128.7 1560.2L2130.8 1564.5L2132.8 1566.3L2134.9 1564.7L2137.0 1564.7L2139.0 1570.7L2141.1 1572.2L2143.2 1573.1L2145.3 1575.2L2147.3 1574.9L2149.4 1574.0L2151.5 1580.4L2153.5 1574.5L2155.6 1574.5L2157.7 1578.2L2159.7 1574.0L2161.8 1572.7L2163.9 1573.8L2166.0 1578.1L2168.0 1577.9L2170.1 1577.8L2172.2 1576.0L2174.2 1575.1L2176.3 1581.3L2178.4 1574.5L2180.4 1578.8L2182.5 1575.6L2184.6 1578.4L2186.7 1579.2L2188.7 1583.4L2190.8 1570.4L2192.9 1583.5L2194.9 1576.2L2197.0 1580.6L2199.1 1582.9L2201.1 1578.7L2203.2 1581.5L2205.3 1582.3L2207.4 1578.3L2209.4 1574.3L2211.5 1576.7L2213.6 1576.6L2215.6 1571.8L2217.7 1581.0L2219.8 1577.7L2221.8 1569.7L2223.9 1575.0L2226.0 1583.2L2228.1 1583.2L2230.1 1579.4L2232.2 1573.7L2234.3 1578.8L2236.3 1584.7L2238.4 1585.4L2240.5 1586.2L2242.5 1587.5L2244.6 1594.0L2246.7 1591.4L2248.8 1593.7L2250.8 1594.8L2252.9 1599.0L2255.0 1595.2L2257.0 1596.1L2259.1 1590.4L2261.2 1600.2L2263.2 1600.0L2265.3 1597.4L2267.4 1590.6L2269.5 1596.2L2271.5 1598.4L2273.6 1604.9L2275.7 1600.4L2277.7 1601.2L2279.8 1601.3L2281.9 1603.0L2283.9 1595.3L2286.0 1595.5L2288.1 1593.2L2290.2 1594.7L2292.2 1593.1L2294.3 1593.1L2296.4 1588.0L2298.4 1591.4L2300.5 1590.0L2302.6 1600.9L2304.6 1594.2L2306.7 1605.4L2308.8 1604.1L2310.9 1593.0L2312.9 1597.3L2315.0 1593.8L2317.1 1584.6L2319.1 1589.0L2321.2 1586.4L2323.3 1589.2L2325.3 1586.8L2327.4 1590.8L2329.5 1593.7L2331.6 1593.3L2333.6 1590.7L2335.7 1590.5L2337.8 1586.2L2339.8 1588.8L2341.9 1578.0L2344.0 1592.5L2346.0 1589.5L2348.1 1591.5L2350.2 1589.4L2352.3 1579.3L2354.3 1587.1L2356.4 1576.7L2358.5 1583.7L2360.5 1585.2L2362.6 1590.3L2364.7 1586.2L2366.7 1580.7L2368.8 1585.2L2370.9 1575.2L2373.0 1580.8L2375.0 1578.3L2377.1 1583.1L2379.2 1575.5L2381.2 1573.3L2383.3 1572.0L2385.4 1574.9L2387.4 1579.0L2389.5 1585.9L2391.6 1577.0L2393.7 1577.5L2395.7 1570.5L2397.8 1571.8L2399.9 1573.0L2401.9 1568.7L2404.0 1571.1L2406.1 1573.5L2408.1 1575.9L2410.2 1576.8L2412.3 1574.0L2414.4 1572.1L2416.4 1571.4L2418.5 1580.5L2420.6 1583.2L2422.6 1580.7L2424.7 1585.5L2426.8 1579.9L2428.8 1581.1L2430.9 1588.8L2433.0 1583.3L2435.1 1591.1L2437.1 1593.2L2439.2 1595.2L2441.3 1603.1L2443.3 1596.5L2445.4 1598.0L2447.5 1592.8L2449.5 1596.3L2451.6 1598.9L2453.7 1600.6L2455.8 1602.3" fill="none" stroke="#000" stroke-width="9.5" stroke-linecap="round" stroke-linejoin="round" stroke-dasharray="0 20.2"/><path d="M283.5 1585.1L285.5 1585.2L287.5 1585.4L289.5 1585.5L291.5 1585.6L293.5 1585.8L295.5 1586.0L297.5 1586.1L299.5 1586.3L301.5 1586.4L303.5 1586.5L305.5 1586.7L307.5 1586.8L309.5 1587.0L311.5 1587.2L313.5 1587.3L315.5 1587.5L317.5 1587.6L319.5 1587.7L321.5 1587.9L323.5 1587.9L325.5 1588.0L327.5 1588.0L329.5 1588.0L331.5 1587.9L333.5 1587.8L335.5 1587.7L337.5 1587.5L339.5 1587.3L341.5 1587.1L343.5 1586.8L345.5 1586.5L347.5 1586.2L349.5 1585.9L351.5 1585.5L353.5 1585.0L355.5 1584.5L357.5 1584.0L359.5 1583.3L361.5 1582.6L363.5 1581.9L365.5 1581.1L367.5 1580.3L369.5 1579.5L371.5 1578.7L373.5 1578.0L375.5 1577.2L377.5 1576.5L379.5 1575.8L381.5 1575.1L383.5 1574.5L385.5 1573.8L387.5 1573.1L389.5 1572.3L391.5 1571.6L393.5 1570.7L395.5 1569.9L397.5 1568.9L399.5 1567.9L401.5 1566.9L403.5 1565.8L405.5 1564.6L407.5 1563.4L409.5 1562.2L411.5 1560.9L413.5 1559.7L415.5 1558.4L417.5 1557.2L419.5 1555.9L421.5 1554.6L423.5 1553.4L425.5 1552.1L427.5 1550.8L429.5 1549.5L431.5 1548.2L433.5 1546.9L435.5 1545.5L437.5 1544.2L439.5 1542.9L441.5 1541.6L443.5 1540.2L445.5 1538.9L447.5 1537.5L449.5 1536.2L451.5 1534.9L453.5 1533.6L455.5 1532.3L457.5 1531.0L459.5 1529.7L461.5 1528.4L463.5 1527.2L465.5 1525.9L467.5 1524.7L469.5 1523.5L471.5 1522.2L473.5 1521.0L475.5 1519.8L477.5 1518.5L479.5 1517.3L481.5 1516.1L483.5 1514.8L485.5 1513.6L487.5 1512.4L489.5 1511.3L491.5 1510.1L493.5 1509.0L495.5 1507.9L497.5 1506.9L499.5 1505.8L501.5 1504.8L503.5 1503.8L505.5 1502.8L507.5 1501.9L509.5 1501.0L511.5 1500.1L513.5 1499.3L515.5 1498.6L517.5 1498.0L519.5 1497.3L521.5 1496.8L523.5 1496.2L525.5 1495.7L527.5 1495.2L529.5 1494.7L531.5 1494.2L533.5 1493.7L535.5 1493.1L537.5 1492.5L539.5 1491.8L541.5 1491.1L543.5 1490.4L545.5 1489.6L547.5 1488.8L549.5 1488.0L551.5 1487.1L553.5 1486.2L555.5 1485.3L557.5 1484.4L559.5 1483.5L561.5 1482.5L563.5 1481.5L565.5 1480.5L567.5 1479.5L569.5 1478.5L571.5 1477.4L573.5 1476.4L575.5 1475.3L577.5 1474.2L579.5 1473.1L581.5 1472.0L583.5 1470.9L585.5 1469.7L587.5 1468.6L589.5 1467.5L591.5 1466.3L593.5 1465.2L595.5 1464.0L597.5 1462.8L599.5 1461.6L601.5 1460.4L603.5 1459.2L605.5 1458.0L607.5 1456.7L609.5 1455.5L611.5 1454.2L613.5 1452.9L615.5 1451.6L617.5 1450.2L619.5 1448.9L621.5 1447.5L623.5 1446.0L625.5 1444.6L627.5 1443.1L629.5 1441.6L631.5 1440.0L633.5 1438.4L635.5 1436.8L637.5 1435.1L639.5 1433.4L641.5 1431.7L643.5 1430.0L645.5 1428.2L647.5 1426.3L649.5 1424.5L651.5 1422.6L653.5 1420.8L655.5 1418.9L657.5 1417.1L659.5 1415.3L661.5 1413.5L663.5 1411.7L665.5 1409.9L667.5 1408.1L669.5 1406.2L671.5 1404.3L673.5 1402.3L675.5 1400.3L677.5 1398.1L679.5 1395.9L681.5 1393.7L683.5 1391.3L685.5 1389.0L687.5 1386.6L689.5 1384.1L691.5 1381.7L693.5 1379.3L695.5 1376.8L697.5 1374.3L699.5 1371.8L701.5 1369.2L703.5 1366.5L705.5 1363.8L707.5 1361.0L709.5 1358.0L711.5 1355.0L713.5 1352.0L715.5 1348.8L717.5 1345.7L719.5 1342.5L721.5 1339.2L723.5 1336.0L725.5 1332.7L727.5 1329.4L729.5 1326.0L731.5 1322.7L733.5 1319.4L735.5 1316.1L737.5 1312.7L739.5 1309.3L741.5 1305.9L743.5 1302.5L745.5 1299.0L747.5 1295.4L749.5 1291.7L751.5 1287.9L753.5 1284.1L755.5 1280.0L757.5 1275.9L759.5 1271.6L761.5 1267.4L763.5 1263.2L765.5 1259.2L767.5 1255.5L769.5 1251.9L771.5 1248.5L773.5 1245.2L775.5 1242.1L777.5 1239.0L779.5 1235.9L781.5 1232.9L783.5 1230.0L785.5 1227.1L787.5 1224.4L789.5 1221.9L791.5 1219.6L793.5 1217.6L795.5 1215.8L797.5 1214.3L799.5 1212.9L801.5 1211.8L803.5 1210.9L805.5 1210.2L807.5 1209.7L809.5 1209.2L811.5 1208.9L813.5 1208.7L815.5 1208.6L817.5 1208.7L819.5 1209.0L821.5 1209.4L823.5 1210.1L825.5 1211.1L827.5 1212.2L829.5 1213.5L831.5 1214.9L833.5 1216.4L835.5 1218.0L837.5 1219.6L839.5 1221.3L841.5 1223.2L843.5 1225.1L845.5 1227.2L847.5 1229.5L849.5 1231.8L851.5 1234.2L853.5 1236.6L855.5 1239.1L857.5 1241.7L859.5 1244.2L861.5 1246.9L863.5 1249.5L865.5 1252.2L867.5 1254.9L869.5 1257.6L871.5 1260.2L873.5 1262.8L875.5 1265.5L877.5 1268.1L879.5 1270.7L881.5 1273.4L883.5 1276.1L885.5 1278.9L887.5 1281.8L889.5 1284.7L891.5 1287.7L893.5 1290.6L895.5 1293.5L897.5 1296.3L899.5 1298.9L901.5 1301.4L903.5 1303.8L905.5 1306.1L907.5 1308.4L909.5 1310.7L911.5 1313.0L913.5 1315.5L915.5 1318.0L917.5 1320.6L919.5 1323.3L921.5 1326.0L923.5 1328.7L925.5 1331.3L927.5 1333.9L929.5 1336.4L931.5 1338.8L933.5 1341.2L935.5 1343.6L937.5 1345.8L939.5 1348.1L941.5 1350.3L943.5 1352.5L945.5 1354.6L947.5 1356.6L949.5 1358.7L951.5 1360.7L953.5 1362.7L955.5 1364.7L957.5 1366.7L959.5 1368.8L961.5 1370.9L963.5 1373.1L965.5 1375.3L967.5 1377.5L969.5 1379.8L971.5 1382.0L973.5 1384.2L975.5 1386.3L977.5 1388.3L979.5 1390.2L981.5 1392.1L983.5 1393.9L985.5 1395.6L987.5 1397.4L989.5 1399.1L991.5 1400.8L993.5 1402.5L995.5 1404.2L997.5 1405.9L999.5 1407.6L1001.5 1409.4L1003.5 1411.1L1005.5 1412.9L1007.5 1414.6L1009.5 1416.3L1011.5 1418.0L1013.5 1419.7L1015.5 1421.4L1017.5 1423.1L1019.5 1424.7L1021.5 1426.4L1023.5 1428.0L1025.5 1429.6L1027.5 1431.2L1029.5 1432.8L1031.5 1434.3L1033.5 1435.8L1035.5 1437.2L1037.5 1438.6L1039.5 1440.0L1041.5 1441.3L1043.5 1442.6L1045.5 1443.8L1047.5 1445.1L1049.5 1446.3L1051.5 1447.5L1053.5 1448.7L1055.5 1450.0L1057.5 1451.2L1059.5 1452.5L1061.5 1453.8L1063.5 1455.1L1065.5 1456.3L1067.5 1457.6L1069.5 1458.9L1071.5 1460.1L1073.5 1461.3L1075.5 1462.5L1077.5 1463.7L1079.5 1464.9L1081.5 1466.0L1083.5 1467.1L1085.5 1468.3L1087.5 1469.4L1089.5 1470.4L1091.5 1471.5L1093.5 1472.6L1095.5 1473.7L1097.5 1474.7L1099.5 1475.8L1101.5 1476.8L1103.5 1477.9L1105.5 1478.9L1107.5 1479.9L1109.5 1480.9L1111.5 1481.9L1113.5 1482.9L1115.5 1483.9L1117.5 1484.8L1119.5 1485.7L1121.5 1486.6L1123.5 1487.5L1125.5 1488.4L1127.5 1489.2L1129.5 1490.0L1131.5 1490.9L1133.5 1491.7L1135.5 1492.5L1137.5 1493.3L1139.5 1494.1L1141.5 1494.9L1143.5 1495.8L1145.5 1496.6L1147.5 1497.4L1149.5 1498.3L1151.5 1499.1L1153.5 1500.0L1155.5 1500.8L1157.5 1501.7L1159.5 1502.5L1161.5 1503.4L1163.5 1504.2L1165.5 1505.1L1167.5 1505.9L1169.5 1506.7L1171.5 1507.6L1173.5 1508.4L1175.5 1509.2L1177.5 1510.0L1179.5 1510.8L1181.5 1511.7L1183.5 1512.5L1185.5 1513.3L1187.5 1514.1L1189.5 1514.9L1191.5 1515.7L1193.5 1516.5L1195.5 1517.3L1197.5 1518.1L1199.5 1518.8L1201.5 1519.6L1203.5 1520.3L1205.5 1521.0L1207.5 1521.7L1209.5 1522.4L1211.5 1523.0L1213.5 1523.7L1215.5 1524.3L1217.5 1525.0L1219.5 1525.6L1221.5 1526.2L1223.5 1526.8L1225.5 1527.3L1227.5 1527.9L1229.5 1528.5L1231.5 1529.0L1233.5 1529.6L1235.5 1530.1L1237.5 1530.6L1239.5 1531.1L1241.5 1531.6L1243.5 1532.1L1245.5 1532.6L1247.5 1533.1L1249.5 1533.6L1251.5 1534.1L1253.5 1534.6L1255.5 1535.1L1257.5 1535.7L1259.5 1536.2L1261.5 1536.7L1263.5 1537.3L1265.5 1537.8L1267.5 1538.4L1269.5 1538.9L1271.5 1539.5L1273.5 1540.0L1275.5 1540.6L1277.5 1541.1L1279.5 1541.7L1281.5 1542.3L1283.5 1542.8L1285.5 1543.4L1287.5 1544.0L1289.5 1544.5L1291.5 1545.1L1293.5 1545.6L1295.5 1546.1L1297.5 1546.5L1299.5 1546.9L1301.5 1547.3L1303.5 1547.6L1305.5 1547.9L1307.5 1548.2L1309.5 1548.5L1311.5 1548.8L1313.5 1549.0L1315.5 1549.3L1317.5 1549.5L1319.5 1549.8L1321.5 1550.1L1323.5 1550.4L1325.5 1550.7L1327.5 1551.0L1329.5 1551.4L1331.5 1551.7L1333.5 1552.1L1335.5 1552.5L1337.5 1552.8L1339.5 1553.2L1341.5 1553.6L1343.5 1554.0L1345.5 1554.4L1347.5 1554.8L1349.5 1555.1L1351.5 1555.5L1353.5 1555.9L1355.5 1556.3L1357.5 1556.7L1359.5 1557.1L1361.5 1557.5L1363.5 1557.9L1365.5 1558.3L1367.5 1558.6L1369.5 1559.0L1371.5 1559.4L1373.5 1559.7L1375.5 1560.1L1377.5 1560.4L1379.5 1560.7L1381.5 1561.0L1383.5 1561.4L1385.5 1561.7L1387.5 1562.0L1389.5 1562.3L1391.5 1562.6L1393.5 1562.9L1395.5 1563.2L1397.5 1563.5L1399.5 1563.8L1401.5 1564.1L1403.5 1564.4L1405.5 1564.6L1407.5 1564.9L1409.5 1565.2L1411.5 1565.5L1413.5 1565.8L1415.5 1566.1L1417.5 1566.4L1419.5 1566.8L1421.5 1567.1L1423.5 1567.5L1425.5 1567.9L1427.5 1568.3L1429.5 1568.7L1431.5 1569.0L1433.5 1569.4L1435.5 1569.8L1437.5 1570.1L1439.5 1570.4L1441.5 1570.7L1443.5 1570.9L1445.5 1571.1L1447.5 1571.3L1449.5 1571.4L1451.5 1571.5L1453.5 1571.6L1455.5 1571.7L1457.5 1571.8L1459.5 1572.0L1461.5 1572.1L1463.5 1572.3L1465.5 1572.4L1467.5 1572.6L1469.5 1572.9L1471.5 1573.2L1473.5 1573.5L1475.5 1573.9L1477.5 1574.4L1479.5 1575.1L1481.5 1576.1L1483.5 1576.2L1485.5 1577.2L1487.0 1582.0L1489.1 1581.8L1491.1 1599.8L1493.2 1606.1L1495.3 1611.4L1497.3 1608.4L1499.4 1615.2L1501.5 1607.8L1503.6 1599.4L1505.6 1602.6L1507.7 1600.0L1509.8 1596.3L1511.8 1595.3L1513.9 1590.6L1516.0 1582.7L1518.0 1583.0L1520.1 1588.4L1522.2 1586.9L1524.3 1583.7L1526.3 1575.8L1528.4 1579.1L1530.5 1583.2L1532.5 1587.2L1534.6 1584.0L1536.7 1584.8L1538.7 1592.0L1540.8 1588.4L1542.9 1587.2L1545.0 1586.3L1547.0 1586.7L1549.1 1594.2L1551.2 1591.9L1553.2 1586.1L1555.3 1582.0L1557.4 1590.4L1559.4 1588.6L1561.5 1584.0L1563.6 1579.4L1565.7 1568.8L1567.7 1572.0L1569.8 1579.4L1571.9 1578.0L1573.9 1581.3L1576.0 1575.8L1578.1 1571.1L1580.1 1572.8L1582.2 1572.8L1584.3 1577.2L1586.4 1579.5L1588.4 1580.0L1590.5 1583.6L1592.6 1584.8L1594.6 1576.2L1596.7 1579.7L1598.8 1578.5L1600.8 1583.0L1602.9 1577.2L1605.0 1583.4L1607.1 1583.3L1609.1 1583.1L1611.2 1578.3L1613.3 1580.9L1615.3 1578.3L1617.4 1583.2L1619.5 1585.2L1621.5 1577.4L1623.6 1579.9L1625.7 1582.3L1627.8 1581.4L1629.8 1588.1L1631.9 1583.3L1634.0 1585.5L1636.0 1582.1L1638.1 1591.6L1640.2 1589.5L1642.2 1593.8L1644.3 1592.0L1646.4 1583.3L1648.5 1583.4L1650.5 1582.9L1652.6 1586.9L1654.7 1583.8L1656.7 1590.8L1658.8 1594.3L1660.9 1594.1L1662.9 1595.1L1665.0 1591.5L1667.1 1584.6L1669.2 1586.4L1671.2 1592.6L1673.3 1582.6L1675.4 1590.0L1677.4 1592.8L1679.5 1587.6L1681.6 1592.5L1683.6 1588.9L1685.7 1597.2L1687.8 1590.2L1689.9 1586.4L1691.9 1587.6L1694.0 1587.5L1696.1 1587.3L1698.1 1590.2L1700.2 1589.6L1702.3 1588.8L1704.3 1596.2L1706.4 1603.8L1708.5 1599.4L1710.6 1599.1L1712.6 1598.2L1714.7 1603.0L1716.8 1600.1L1718.8 1600.8L1720.9 1595.0L1723.0 1597.9L1725.0 1598.1L1727.1 1604.8L1729.2 1601.3L1731.3 1594.9L1733.3 1604.8L1735.4 1607.4L1737.5 1608.6L1739.5 1596.7L1741.6 1605.0L1743.7 1605.9L1745.7 1604.2L1747.8 1601.3L1749.9 1596.6L1752.0 1600.9L1754.0 1601.4L1756.1 1604.2L1758.2 1604.5L1760.2 1601.6L1762.3 1604.4L1764.4 1598.0L1766.4 1598.6L1768.5 1600.0L1770.6 1601.4L1772.7 1599.2L1774.7 1604.4L1776.8 1602.4L1778.9 1598.7L1780.9 1602.3L1783.0 1599.6L1785.1 1599.1L1787.1 1597.5L1789.2 1605.9L1791.3 1604.5L1793.4 1597.5L1795.4 1606.1L1797.5 1605.8L1799.6 1600.9L1801.6 1602.7L1803.7 1607.1L1805.8 1601.6L1807.8 1603.0L1809.9 1606.2L1812.0 1600.7L1814.1 1601.1L1816.1 1601.7L1818.2 1604.8L1820.3 1606.8L1822.3 1601.0L1824.4 1598.9L1826.5 1603.2L1828.5 1601.8L1830.6 1606.2L1832.7 1605.4L1834.8 1606.7L1836.8 1608.3L1838.9 1609.8L1841.0 1607.1L1843.0 1606.8L1845.1 1615.0L1847.2 1619.4L1849.2 1613.1L1851.3 1604.8L1853.4 1610.7L1855.5 1615.0L1857.5 1607.3L1859.6 1611.4L1861.7 1611.2L1863.7 1609.3L1865.8 1609.1L1867.9 1614.1L1869.9 1609.1L1872.0 1609.3L1874.1 1614.7L1876.2 1606.5L1878.2 1602.8L1880.3 1610.7L1882.4 1615.4L1884.4 1610.4L1886.5 1611.2L1888.6 1606.9L1890.6 1608.4L1892.7 1615.9L1894.8 1615.2L1896.9 1613.0L1898.9 1608.4L1901.0 1605.3L1903.1 1604.3L1905.1 1602.5L1907.2 1606.5L1909.3 1600.8L1911.3 1602.8L1913.4 1607.7L1915.5 1609.0L1917.6 1608.5L1919.6 1611.2L1921.7 1611.3L1923.8 1605.5L1925.8 1610.6L1927.9 1609.1L1930.0 1609.4L1932.0 1612.1L1934.1 1610.5L1936.2 1617.2L1938.3 1614.6L1940.3 1617.3L1942.4 1619.4L1944.5 1616.6L1946.5 1617.3L1948.6 1615.8L1950.7 1613.6L1952.7 1609.4L1954.8 1610.6L1956.9 1613.2L1959.0 1616.3L1961.0 1610.4L1963.1 1613.3L1965.2 1611.8L1967.2 1611.9L1969.3 1609.7L1971.4 1613.5L1973.4 1614.4L1975.5 1617.9L1977.6 1613.8L1979.7 1616.3L1981.7 1618.4L1983.8 1622.0L1985.9 1619.5L1987.9 1610.0L1990.0 1611.3L1992.1 1613.3L1994.1 1603.3L1996.2 1605.8L1998.3 1610.2L2000.4 1608.2L2002.4 1602.1L2004.5 1609.0L2006.6 1606.6L2008.6 1604.9L2010.7 1598.2L2012.8 1600.8L2014.8 1604.8L2016.9 1601.7L2019.0 1602.2L2021.1 1598.5L2023.1 1603.6L2025.2 1598.2L2027.3 1602.2L2029.3 1600.8L2031.4 1597.4L2033.5 1602.0L2035.5 1590.6L2037.6 1589.6L2039.7 1593.9L2041.8 1591.0L2043.8 1591.7L2045.9 1599.0L2048.0 1600.3L2050.0 1603.2L2052.1 1606.4L2054.2 1612.1L2056.2 1604.0L2058.3 1613.1L2060.4 1606.5L2062.5 1605.9L2064.5 1599.0L2066.6 1603.6L2068.7 1610.0L2070.7 1611.6L2072.8 1607.9L2074.9 1611.7L2076.9 1613.5L2079.0 1609.0L2081.1 1605.7L2083.2 1607.6L2085.2 1609.5L2087.3 1610.5L2089.4 1610.6L2091.4 1603.8L2093.5 1605.3L2095.6 1604.0L2097.6 1605.3L2099.7 1609.0L2101.8 1609.9L2103.9 1604.8L2105.9 1604.7L2108.0 1604.3L2110.1 1604.0L2112.1 1603.5L2114.2 1603.5L2116.3 1601.6L2118.3 1599.3L2120.4 1598.7L2122.5 1602.2L2124.6 1609.3L2126.6 1602.4L2128.7 1601.8L2130.8 1599.9L2132.8 1598.1L2134.9 1605.9L2137.0 1599.9L2139.0 1597.5L2141.1 1595.7L2143.2 1599.2L2145.3 1594.8L2147.3 1596.2L2149.4 1597.2L2151.5 1597.0L2153.5 1602.9L2155.6 1598.9L2157.7 1613.1L2159.7 1599.2L2161.8 1604.0L2163.9 1607.3L2166.0 1607.2L2168.0 1603.7L2170.1 1604.5L2172.2 1603.1L2174.2 1604.4L2176.3 1607.2L2178.4 1607.6L2180.4 1607.9L2182.5 1608.9L2184.6 1613.1L2186.7 1610.8L2188.7 1614.2L2190.8 1618.3L2192.9 1614.9L2194.9 1616.8L2197.0 1611.0L2199.1 1612.6L2201.1 1612.7L2203.2 1611.2L2205.3 1611.4L2207.4 1616.2L2209.4 1612.8L2211.5 1613.6L2213.6 1618.5L2215.6 1614.7L2217.7 1618.4L2219.8 1620.5L2221.8 1615.0L2223.9 1615.1L2226.0 1612.8L2228.1 1616.2L2230.1 1615.1L2232.2 1615.2L2234.3 1605.1L2236.3 1615.0L2238.4 1619.9L2240.5 1617.7L2242.5 1615.6L2244.6 1620.6L2246.7 1614.8L2248.8 1616.2L2250.8 1619.2L2252.9 1615.2L2255.0 1617.1L2257.0 1616.2L2259.1 1612.3L2261.2 1615.2L2263.2 1616.8L2265.3 1616.9L2267.4 1623.4L2269.5 1620.9L2271.5 1620.2L2273.6 1617.5L2275.7 1620.9L2277.7 1626.4L2279.8 1621.9L2281.9 1626.0L2283.9 1625.9L2286.0 1624.8L2288.1 1626.2L2290.2 1633.5L2292.2 1629.0L2294.3 1637.2L2296.4 1632.1L2298.4 1638.6L2300.5 1634.5L2302.6 1634.9L2304.6 1637.4L2306.7 1629.5L2308.8 1631.1L2310.9 1628.0L2312.9 1628.4L2315.0 1627.3L2317.1 1624.1L2319.1 1622.0L2321.2 1618.1L2323.3 1619.3L2325.3 1614.8L2327.4 1614.5L2329.5 1614.0L2331.6 1609.6L2333.6 1611.2L2335.7 1616.3L2337.8 1615.7L2339.8 1620.0L2341.9 1608.6L2344.0 1617.2L2346.0 1620.0L2348.1 1616.3L2350.2 1618.0L2352.3 1615.2L2354.3 1614.4L2356.4 1616.8L2358.5 1609.0L2360.5 1605.2L2362.6 1613.0L2364.7 1612.0L2366.7 1613.5L2368.8 1615.8L2370.9 1618.9L2373.0 1617.6L2375.0 1622.8L2377.1 1624.4L2379.2 1620.4L2381.2 1623.8L2383.3 1625.1L2385.4 1621.2L2387.4 1626.1L2389.5 1620.4L2391.6 1623.7L2393.7 1625.3L2395.7 1615.5L2397.8 1614.0L2399.9 1616.8L2401.9 1611.2L2404.0 1610.3L2406.1 1611.3L2408.1 1602.4L2410.2 1607.9L2412.3 1606.0L2414.4 1606.7L2416.4 1611.6L2418.5 1610.6L2420.6 1613.0L2422.6 1610.7L2424.7 1613.7L2426.8 1613.9L2428.8 1608.3L2430.9 1614.2L2433.0 1615.4L2435.1 1619.3L2437.1 1613.4L2439.2 1617.7L2441.3 1616.6L2443.3 1615.6L2445.4 1624.6L2447.5 1630.9L2449.5 1631.7L2451.6 1639.9L2453.7 1642.5L2455.8 1646.3" fill="none" stroke="#127d12" stroke-width="10.5" stroke-linecap="round" stroke-linejoin="round" stroke-dasharray="0 23.5"/><path d="M283.5 1568.2L285.5 1568.3L287.5 1568.4L289.5 1568.6L291.5 1568.7L293.5 1568.9L295.5 1569.1L297.5 1569.3L299.5 1569.4L301.5 1569.6L303.5 1569.8L305.5 1569.9L307.5 1570.1L309.5 1570.2L311.5 1570.4L313.5 1570.5L315.5 1570.7L317.5 1570.9L319.5 1571.0L321.5 1571.1L323.5 1571.2L325.5 1571.3L327.5 1571.3L329.5 1571.3L331.5 1571.2L333.5 1571.2L335.5 1571.0L337.5 1570.8L339.5 1570.6L341.5 1570.4L343.5 1570.1L345.5 1569.8L347.5 1569.4L349.5 1569.1L351.5 1568.7L353.5 1568.2L355.5 1567.7L357.5 1567.1L359.5 1566.4L361.5 1565.7L363.5 1564.9L365.5 1564.1L367.5 1563.2L369.5 1562.3L371.5 1561.5L373.5 1560.6L375.5 1559.7L377.5 1558.8L379.5 1557.8L381.5 1556.9L383.5 1555.9L385.5 1554.9L387.5 1553.9L389.5 1552.8L391.5 1551.7L393.5 1550.6L395.5 1549.5L397.5 1548.2L399.5 1547.0L401.5 1545.7L403.5 1544.3L405.5 1542.9L407.5 1541.4L409.5 1539.9L411.5 1538.5L413.5 1537.0L415.5 1535.5L417.5 1534.1L419.5 1532.7L421.5 1531.3L423.5 1529.8L425.5 1528.4L427.5 1527.0L429.5 1525.5L431.5 1524.1L433.5 1522.6L435.5 1521.1L437.5 1519.5L439.5 1518.0L441.5 1516.4L443.5 1514.9L445.5 1513.2L447.5 1511.6L449.5 1509.9L451.5 1508.0L453.5 1506.1L455.5 1504.0L457.5 1501.7L459.5 1499.3L461.5 1496.6L463.5 1493.8L465.5 1490.9L467.5 1488.1L469.5 1485.5L471.5 1483.1L473.5 1480.9L475.5 1478.9L477.5 1477.0L479.5 1475.2L481.5 1473.5L483.5 1471.8L485.5 1470.2L487.5 1468.7L489.5 1467.2L491.5 1465.7L493.5 1464.3L495.5 1462.9L497.5 1461.6L499.5 1460.3L501.5 1459.1L503.5 1457.9L505.5 1456.8L507.5 1455.8L509.5 1454.9L511.5 1454.0L513.5 1453.1L515.5 1452.3L517.5 1451.6L519.5 1450.8L521.5 1450.0L523.5 1449.2L525.5 1448.4L527.5 1447.5L529.5 1446.6L531.5 1445.7L533.5 1444.7L535.5 1443.7L537.5 1442.7L539.5 1441.6L541.5 1440.5L543.5 1439.4L545.5 1438.3L547.5 1437.2L549.5 1436.1L551.5 1434.9L553.5 1433.8L555.5 1432.6L557.5 1431.5L559.5 1430.3L561.5 1429.1L563.5 1427.9L565.5 1426.6L567.5 1425.4L569.5 1424.1L571.5 1422.7L573.5 1421.4L575.5 1420.0L577.5 1418.5L579.5 1417.1L581.5 1415.6L583.5 1414.1L585.5 1412.6L587.5 1411.0L589.5 1409.5L591.5 1407.9L593.5 1406.2L595.5 1404.6L597.5 1402.9L599.5 1401.2L601.5 1399.4L603.5 1397.6L605.5 1395.8L607.5 1393.9L609.5 1391.9L611.5 1389.9L613.5 1387.9L615.5 1385.8L617.5 1383.7L619.5 1381.6L621.5 1379.4L623.5 1377.2L625.5 1375.0L627.5 1372.7L629.5 1370.4L631.5 1368.1L633.5 1365.7L635.5 1363.3L637.5 1360.9L639.5 1358.4L641.5 1355.9L643.5 1353.4L645.5 1350.8L647.5 1348.2L649.5 1345.6L651.5 1342.9L653.5 1340.1L655.5 1337.4L657.5 1334.6L659.5 1331.7L661.5 1328.9L663.5 1326.0L665.5 1323.1L667.5 1320.2L669.5 1317.3L671.5 1314.4L673.5 1311.5L675.5 1308.5L677.5 1305.4L679.5 1302.3L681.5 1299.0L683.5 1295.5L685.5 1291.8L687.5 1288.1L689.5 1284.2L691.5 1280.2L693.5 1276.2L695.5 1272.2L697.5 1268.2L699.5 1264.1L701.5 1260.1L703.5 1256.1L705.5 1252.2L707.5 1248.3L709.5 1244.5L711.5 1240.5L713.5 1236.4L715.5 1231.9L717.5 1227.2L719.5 1222.2L721.5 1216.9L723.5 1211.5L725.5 1206.0L727.5 1200.5L729.5 1195.0L731.5 1189.4L733.5 1183.8L735.5 1178.0L737.5 1172.2L739.5 1166.3L741.5 1160.2L743.5 1154.1L745.5 1147.8L747.5 1141.3L749.5 1134.6L751.5 1127.7L753.5 1120.5L755.5 1113.0L757.5 1105.4L759.5 1097.7L761.5 1090.0L763.5 1082.6L765.5 1075.6L767.5 1069.1L769.5 1063.1L771.5 1057.4L773.5 1051.7L775.5 1046.1L777.5 1040.4L779.5 1034.9L781.5 1029.6L783.5 1024.5L785.5 1019.8L787.5 1015.4L789.5 1011.4L791.5 1007.6L793.5 1004.0L795.5 1000.8L797.5 997.8L799.5 995.2L801.5 992.9L803.5 990.9L805.5 989.2L807.5 987.9L809.5 987.0L811.5 986.4L813.5 986.3L815.5 986.4L817.5 986.9L819.5 987.6L821.5 988.5L823.5 989.8L825.5 991.4L827.5 993.5L829.5 995.8L831.5 998.4L833.5 1001.3L835.5 1004.4L837.5 1007.6L839.5 1011.1L841.5 1014.7L843.5 1018.5L845.5 1022.5L847.5 1026.6L849.5 1030.8L851.5 1035.0L853.5 1039.4L855.5 1043.7L857.5 1048.1L859.5 1052.5L861.5 1057.0L863.5 1061.5L865.5 1066.1L867.5 1070.8L869.5 1075.6L871.5 1080.5L873.5 1085.4L875.5 1090.2L877.5 1095.0L879.5 1099.7L881.5 1104.4L883.5 1109.0L885.5 1113.6L887.5 1118.3L889.5 1123.0L891.5 1127.7L893.5 1132.5L895.5 1137.2L897.5 1141.9L899.5 1146.5L901.5 1151.1L903.5 1155.6L905.5 1159.9L907.5 1164.1L909.5 1168.2L911.5 1172.3L913.5 1176.5L915.5 1180.8L917.5 1185.3L919.5 1189.8L921.5 1194.4L923.5 1198.8L925.5 1203.1L927.5 1207.2L929.5 1211.1L931.5 1215.0L933.5 1218.9L935.5 1222.8L937.5 1226.7L939.5 1230.7L941.5 1234.6L943.5 1238.4L945.5 1242.0L947.5 1245.6L949.5 1248.9L951.5 1252.2L953.5 1255.4L955.5 1258.6L957.5 1261.7L959.5 1264.9L961.5 1268.0L963.5 1271.2L965.5 1274.4L967.5 1277.7L969.5 1280.9L971.5 1284.2L973.5 1287.5L975.5 1290.7L977.5 1294.0L979.5 1297.2L981.5 1300.3L983.5 1303.3L985.5 1306.2L987.5 1309.0L989.5 1311.7L991.5 1314.4L993.5 1317.0L995.5 1319.7L997.5 1322.3L999.5 1325.1L1001.5 1327.8L1003.5 1330.6L1005.5 1333.4L1007.5 1336.1L1009.5 1338.9L1011.5 1341.5L1013.5 1344.1L1015.5 1346.6L1017.5 1349.1L1019.5 1351.5L1021.5 1353.9L1023.5 1356.2L1025.5 1358.5L1027.5 1360.7L1029.5 1362.9L1031.5 1365.0L1033.5 1367.0L1035.5 1369.0L1037.5 1371.0L1039.5 1373.0L1041.5 1374.9L1043.5 1376.8L1045.5 1378.8L1047.5 1380.7L1049.5 1382.6L1051.5 1384.6L1053.5 1386.5L1055.5 1388.4L1057.5 1390.3L1059.5 1392.3L1061.5 1394.3L1063.5 1396.3L1065.5 1398.3L1067.5 1400.4L1069.5 1402.4L1071.5 1404.5L1073.5 1406.5L1075.5 1408.5L1077.5 1410.4L1079.5 1412.3L1081.5 1414.1L1083.5 1415.9L1085.5 1417.6L1087.5 1419.3L1089.5 1421.0L1091.5 1422.6L1093.5 1424.2L1095.5 1425.8L1097.5 1427.3L1099.5 1428.8L1101.5 1430.3L1103.5 1431.8L1105.5 1433.2L1107.5 1434.6L1109.5 1436.0L1111.5 1437.4L1113.5 1438.8L1115.5 1440.2L1117.5 1441.6L1119.5 1443.0L1121.5 1444.3L1123.5 1445.7L1125.5 1447.1L1127.5 1448.5L1129.5 1449.8L1131.5 1451.1L1133.5 1452.5L1135.5 1453.7L1137.5 1455.0L1139.5 1456.2L1141.5 1457.4L1143.5 1458.6L1145.5 1459.8L1147.5 1460.9L1149.5 1462.0L1151.5 1463.1L1153.5 1464.2L1155.5 1465.3L1157.5 1466.5L1159.5 1467.6L1161.5 1468.8L1163.5 1470.0L1165.5 1471.2L1167.5 1472.4L1169.5 1473.7L1171.5 1474.9L1173.5 1476.0L1175.5 1477.2L1177.5 1478.3L1179.5 1479.3L1181.5 1480.3L1183.5 1481.3L1185.5 1482.2L1187.5 1483.1L1189.5 1484.0L1191.5 1484.9L1193.5 1485.8L1195.5 1486.6L1197.5 1487.5L1199.5 1488.4L1201.5 1489.3L1203.5 1490.2L1205.5 1491.0L1207.5 1491.9L1209.5 1492.8L1211.5 1493.7L1213.5 1494.6L1215.5 1495.4L1217.5 1496.3L1219.5 1497.2L1221.5 1498.0L1223.5 1498.9L1225.5 1499.8L1227.5 1500.6L1229.5 1501.5L1231.5 1502.3L1233.5 1503.1L1235.5 1504.0L1237.5 1504.7L1239.5 1505.5L1241.5 1506.3L1243.5 1507.0L1245.5 1507.7L1247.5 1508.4L1249.5 1509.1L1251.5 1509.8L1253.5 1510.4L1255.5 1511.1L1257.5 1511.7L1259.5 1512.4L1261.5 1513.0L1263.5 1513.7L1265.5 1514.4L1267.5 1515.0L1269.5 1515.7L1271.5 1516.3L1273.5 1517.0L1275.5 1517.6L1277.5 1518.3L1279.5 1518.9L1281.5 1519.6L1283.5 1520.3L1285.5 1520.9L1287.5 1521.6L1289.5 1522.2L1291.5 1522.9L1293.5 1523.6L1295.5 1524.2L1297.5 1524.9L1299.5 1525.5L1301.5 1526.1L1303.5 1526.7L1305.5 1527.3L1307.5 1527.8L1309.5 1528.3L1311.5 1528.8L1313.5 1529.3L1315.5 1529.8L1317.5 1530.2L1319.5 1530.7L1321.5 1531.1L1323.5 1531.5L1325.5 1532.0L1327.5 1532.4L1329.5 1532.8L1331.5 1533.3L1333.5 1533.7L1335.5 1534.2L1337.5 1534.6L1339.5 1535.1L1341.5 1535.5L1343.5 1535.9L1345.5 1536.4L1347.5 1536.8L1349.5 1537.3L1351.5 1537.8L1353.5 1538.2L1355.5 1538.7L1357.5 1539.2L1359.5 1539.7L1361.5 1540.2L1363.5 1540.7L1365.5 1541.2L1367.5 1541.7L1369.5 1542.2L1371.5 1542.6L1373.5 1543.1L1375.5 1543.6L1377.5 1544.0L1379.5 1544.5L1381.5 1544.9L1383.5 1545.4L1385.5 1545.8L1387.5 1546.2L1389.5 1546.6L1391.5 1547.0L1393.5 1547.4L1395.5 1547.7L1397.5 1548.0L1399.5 1548.3L1401.5 1548.5L1403.5 1548.7L1405.5 1549.0L1407.5 1549.1L1409.5 1549.3L1411.5 1549.5L1413.5 1549.7L1415.5 1550.0L1417.5 1550.3L1419.5 1550.6L1421.5 1551.0L1423.5 1551.4L1425.5 1552.0L1427.5 1552.6L1429.5 1553.2L1431.5 1553.9L1433.5 1554.5L1435.5 1555.1L1437.5 1555.6L1439.5 1556.0L1441.5 1556.3L1443.5 1556.5L1445.5 1556.6L1447.5 1556.8L1449.5 1556.8L1451.5 1556.9L1453.5 1556.9L1455.5 1557.0L1457.5 1557.0L1459.5 1557.1L1461.5 1557.1L1463.5 1557.3L1465.5 1557.5L1467.5 1557.9L1469.5 1558.4L1471.5 1559.2L1473.5 1560.1L1475.5 1561.1L1477.5 1562.2L1479.5 1563.2L1481.5 1564.0L1483.5 1565.3L1485.5 1565.8L1487.0 1565.8L1489.1 1563.6L1491.1 1570.9L1493.2 1558.1L1495.3 1560.1L1497.3 1559.8L1499.4 1556.1L1501.5 1562.2L1503.6 1552.4L1505.6 1556.2L1507.7 1555.4L1509.8 1543.3L1511.8 1546.8L1513.9 1553.5L1516.0 1551.8L1518.0 1553.9L1520.1 1557.1L1522.2 1552.1L1524.3 1551.8L1526.3 1546.5L1528.4 1543.1L1530.5 1546.7L1532.5 1553.7L1534.6 1563.3L1536.7 1557.0L1538.7 1554.8L1540.8 1550.1L1542.9 1545.3L1545.0 1547.0L1547.0 1557.2L1549.1 1561.1L1551.2 1563.4L1553.2 1564.5L1555.3 1572.3L1557.4 1571.8L1559.4 1571.6L1561.5 1571.6L1563.6 1573.9L1565.7 1573.9L1567.7 1576.0L1569.8 1574.6L1571.9 1573.3L1573.9 1569.1L1576.0 1563.0L1578.1 1561.8L1580.1 1563.2L1582.2 1562.3L1584.3 1567.1L1586.4 1571.4L1588.4 1567.4L1590.5 1562.4L1592.6 1570.4L1594.6 1565.3L1596.7 1569.4L1598.8 1564.5L1600.8 1576.3L1602.9 1574.7L1605.0 1573.5L1607.1 1573.2L1609.1 1575.0L1611.2 1574.2L1613.3 1573.9L1615.3 1571.2L1617.4 1579.0L1619.5 1574.8L1621.5 1575.2L1623.6 1575.3L1625.7 1567.5L1627.8 1577.0L1629.8 1574.1L1631.9 1573.8L1634.0 1574.5L1636.0 1570.7L1638.1 1576.1L1640.2 1571.3L1642.2 1571.7L1644.3 1573.0L1646.4 1577.7L1648.5 1581.2L1650.5 1578.7L1652.6 1577.6L1654.7 1585.8L1656.7 1578.4L1658.8 1585.0L1660.9 1581.2L1662.9 1579.9L1665.0 1580.7L1667.1 1584.9L1669.2 1586.8L1671.2 1583.1L1673.3 1585.5L1675.4 1587.7L1677.4 1579.0L1679.5 1575.7L1681.6 1579.3L1683.6 1581.5L1685.7 1582.4L1687.8 1579.9L1689.9 1576.2L1691.9 1582.9L1694.0 1573.8L1696.1 1578.7L1698.1 1589.5L1700.2 1586.3L1702.3 1584.5L1704.3 1584.2L1706.4 1588.8L1708.5 1585.9L1710.6 1585.4L1712.6 1582.3L1714.7 1586.7L1716.8 1584.5L1718.8 1584.6L1720.9 1584.5L1723.0 1586.6L1725.0 1585.9L1727.1 1590.3L1729.2 1584.2L1731.3 1588.6L1733.3 1595.7L1735.4 1590.9L1737.5 1594.1L1739.5 1593.5L1741.6 1593.6L1743.7 1592.2L1745.7 1586.4L1747.8 1590.6L1749.9 1591.1L1752.0 1588.4L1754.0 1592.6L1756.1 1591.2L1758.2 1590.9L1760.2 1597.2L1762.3 1597.0L1764.4 1595.6L1766.4 1595.3L1768.5 1597.0L1770.6 1598.4L1772.7 1599.4L1774.7 1601.5L1776.8 1601.2L1778.9 1603.1L1780.9 1602.5L1783.0 1600.9L1785.1 1596.8L1787.1 1596.9L1789.2 1600.2L1791.3 1598.4L1793.4 1599.0L1795.4 1591.8L1797.5 1591.1L1799.6 1600.2L1801.6 1600.2L1803.7 1603.3L1805.8 1601.3L1807.8 1599.7L1809.9 1599.5L1812.0 1595.7L1814.1 1603.1L1816.1 1599.1L1818.2 1602.9L1820.3 1602.1L1822.3 1601.7L1824.4 1602.9L1826.5 1598.1L1828.5 1597.7L1830.6 1595.9L1832.7 1597.8L1834.8 1604.4L1836.8 1598.9L1838.9 1604.2L1841.0 1604.3L1843.0 1605.1L1845.1 1606.5L1847.2 1602.3L1849.2 1605.9L1851.3 1608.7L1853.4 1601.0L1855.5 1602.4L1857.5 1601.5L1859.6 1605.6L1861.7 1602.6L1863.7 1611.9L1865.8 1607.2L1867.9 1604.9L1869.9 1616.2L1872.0 1613.0L1874.1 1610.4L1876.2 1609.2L1878.2 1605.2L1880.3 1604.3L1882.4 1605.8L1884.4 1606.8L1886.5 1608.1L1888.6 1607.2L1890.6 1606.4L1892.7 1608.5L1894.8 1613.6L1896.9 1615.3L1898.9 1609.7L1901.0 1609.1L1903.1 1614.1L1905.1 1612.2L1907.2 1611.9L1909.3 1605.6L1911.3 1608.2L1913.4 1607.5L1915.5 1609.4L1917.6 1603.6L1919.6 1612.7L1921.7 1609.8L1923.8 1610.2L1925.8 1605.3L1927.9 1608.9L1930.0 1613.0L1932.0 1604.1L1934.1 1609.7L1936.2 1611.9L1938.3 1609.2L1940.3 1615.4L1942.4 1613.2L1944.5 1615.3L1946.5 1610.6L1948.6 1607.0L1950.7 1609.8L1952.7 1605.1L1954.8 1607.8L1956.9 1601.4L1959.0 1604.3L1961.0 1610.0L1963.1 1611.5L1965.2 1608.8L1967.2 1610.5L1969.3 1604.0L1971.4 1606.9L1973.4 1601.5L1975.5 1604.2L1977.6 1599.6L1979.7 1597.8L1981.7 1599.2L1983.8 1603.8L1985.9 1594.5L1987.9 1595.7L1990.0 1601.1L1992.1 1597.1L1994.1 1604.5L1996.2 1600.7L1998.3 1601.4L2000.4 1602.3L2002.4 1605.9L2004.5 1602.0L2006.6 1601.1L2008.6 1599.9L2010.7 1594.5L2012.8 1596.7L2014.8 1604.2L2016.9 1602.3L2019.0 1601.5L2021.1 1602.2L2023.1 1599.7L2025.2 1603.5L2027.3 1600.7L2029.3 1605.6L2031.4 1603.0L2033.5 1604.6L2035.5 1605.6L2037.6 1602.0L2039.7 1603.7L2041.8 1601.6L2043.8 1600.7L2045.9 1604.1L2048.0 1596.0L2050.0 1596.1L2052.1 1603.4L2054.2 1603.4L2056.2 1605.5L2058.3 1600.6L2060.4 1600.1L2062.5 1594.1L2064.5 1599.2L2066.6 1599.9L2068.7 1595.5L2070.7 1596.2L2072.8 1598.6L2074.9 1599.8L2076.9 1590.2L2079.0 1601.2L2081.1 1603.4L2083.2 1602.6L2085.2 1602.8L2087.3 1602.2L2089.4 1596.6L2091.4 1599.9L2093.5 1597.2L2095.6 1595.3L2097.6 1599.2L2099.7 1603.7L2101.8 1595.7L2103.9 1597.0L2105.9 1598.9L2108.0 1612.2L2110.1 1607.3L2112.1 1608.8L2114.2 1607.4L2116.3 1607.8L2118.3 1605.1L2120.4 1612.6L2122.5 1613.0L2124.6 1604.3L2126.6 1605.2L2128.7 1604.0L2130.8 1604.0L2132.8 1607.4L2134.9 1612.5L2137.0 1615.5L2139.0 1616.8L2141.1 1615.8L2143.2 1605.9L2145.3 1605.8L2147.3 1608.8L2149.4 1603.7L2151.5 1600.3L2153.5 1591.7L2155.6 1589.7L2157.7 1597.3L2159.7 1596.9L2161.8 1595.7L2163.9 1596.3L2166.0 1593.3L2168.0 1599.2L2170.1 1600.3L2172.2 1601.7L2174.2 1596.8L2176.3 1596.8L2178.4 1597.0L2180.4 1607.4L2182.5 1611.9L2184.6 1606.2L2186.7 1610.5L2188.7 1611.3L2190.8 1610.4L2192.9 1607.3L2194.9 1617.7L2197.0 1624.3L2199.1 1617.5L2201.1 1618.2L2203.2 1609.4L2205.3 1622.4L2207.4 1619.1L2209.4 1619.7L2211.5 1620.7L2213.6 1621.6L2215.6 1625.3L2217.7 1626.4L2219.8 1627.5L2221.8 1627.6L2223.9 1627.6L2226.0 1631.4L2228.1 1621.3L2230.1 1627.0L2232.2 1626.3L2234.3 1626.7L2236.3 1624.8L2238.4 1636.1L2240.5 1632.6L2242.5 1631.1L2244.6 1632.6L2246.7 1625.4L2248.8 1626.4L2250.8 1624.0L2252.9 1629.9L2255.0 1633.6L2257.0 1630.7L2259.1 1636.3L2261.2 1630.9L2263.2 1629.3L2265.3 1625.9L2267.4 1626.7L2269.5 1618.0L2271.5 1623.0L2273.6 1627.3L2275.7 1624.2L2277.7 1632.9L2279.8 1622.8L2281.9 1623.4L2283.9 1618.8L2286.0 1616.0L2288.1 1616.4L2290.2 1620.7L2292.2 1624.1L2294.3 1619.4L2296.4 1622.5L2298.4 1622.2L2300.5 1610.1L2302.6 1615.1L2304.6 1610.6L2306.7 1610.8L2308.8 1618.7L2310.9 1615.6L2312.9 1613.8L2315.0 1614.2L2317.1 1607.4L2319.1 1612.8L2321.2 1604.0L2323.3 1603.0L2325.3 1601.2L2327.4 1604.7L2329.5 1609.0L2331.6 1606.7L2333.6 1608.6L2335.7 1603.5L2337.8 1604.4L2339.8 1604.2L2341.9 1596.1L2344.0 1606.2L2346.0 1597.8L2348.1 1596.5L2350.2 1606.3L2352.3 1608.5L2354.3 1600.3L2356.4 1601.9L2358.5 1615.0L2360.5 1606.8L2362.6 1600.0L2364.7 1601.9L2366.7 1607.8L2368.8 1601.1L2370.9 1602.3L2373.0 1607.4L2375.0 1609.2L2377.1 1609.5L2379.2 1607.2L2381.2 1612.3L2383.3 1606.0L2385.4 1608.0L2387.4 1612.4L2389.5 1607.2L2391.6 1604.4L2393.7 1605.5L2395.7 1610.8L2397.8 1614.5L2399.9 1610.4L2401.9 1613.3L2404.0 1616.4L2406.1 1611.5L2408.1 1609.0L2410.2 1611.8L2412.3 1610.0L2414.4 1616.6L2416.4 1625.7L2418.5 1620.0L2420.6 1617.1L2422.6 1617.6L2424.7 1618.7L2426.8 1618.4L2428.8 1617.2L2430.9 1616.5L2433.0 1624.0L2435.1 1629.9L2437.1 1626.2L2439.2 1627.9L2441.3 1633.0L2443.3 1624.1L2445.4 1626.4L2447.5 1626.7L2449.5 1628.0L2451.6 1626.2L2453.7 1624.6L2455.8 1629.5" fill="none" stroke="#8f48dc" stroke-width="10.5" stroke-linecap="round" stroke-linejoin="round" stroke-dasharray="0 23.5"/></g>
<g font-family="'Liberation Sans', Arial, sans-serif" font-weight="bold" font-size="65" fill="#000"><text x="250.5" y="1667.8" text-anchor="end" textLength="35.1" lengthAdjust="spacingAndGlyphs">0</text><text x="250.5" y="1351.5" text-anchor="end" textLength="35.1" lengthAdjust="spacingAndGlyphs">4</text><text x="250.5" y="1035.2" text-anchor="end" textLength="35.1" lengthAdjust="spacingAndGlyphs">8</text><text x="250.5" y="718.9" text-anchor="end" textLength="70.1" lengthAdjust="spacingAndGlyphs">12</text><text x="250.5" y="402.6" text-anchor="end" textLength="70.1" lengthAdjust="spacingAndGlyphs">16</text><text x="250.5" y="86.3" text-anchor="end" textLength="70.1" lengthAdjust="spacingAndGlyphs">20</text><text x="593.9" y="1729.8" text-anchor="middle" textLength="105.2" lengthAdjust="spacingAndGlyphs">400</text><text x="1007.8" y="1729.8" text-anchor="middle" textLength="105.2" lengthAdjust="spacingAndGlyphs">600</text><text x="1421.7" y="1729.8" text-anchor="middle" textLength="105.2" lengthAdjust="spacingAndGlyphs">800</text><text x="1835.6" y="1729.8" text-anchor="middle" textLength="140.2" lengthAdjust="spacingAndGlyphs">1000</text><text x="2249.5" y="1729.8" text-anchor="middle" textLength="140.2" lengthAdjust="spacingAndGlyphs">1200</text></g>
<g font-family="'Liberation Sans', Arial, sans-serif" font-weight="bold" font-size="51" fill="#000"><path d="M1531.0 211.5H1648.5" stroke="#000" stroke-width="10" stroke-linecap="round"/><text x="1662.5" y="228.6" textLength="533.6" lengthAdjust="spacingAndGlyphs">Unexposed 18 nm Au</text><path d="M1531.0 275.5H1648.5" stroke="#127d12" stroke-width="10" stroke-linecap="round"/><text x="1662.5" y="292.4" textLength="730.3" lengthAdjust="spacingAndGlyphs">Green laser treated 18 nm Au</text><path d="M1531.0 339.5H1648.5" stroke="#9445e6" stroke-width="10" stroke-linecap="round"/><text x="1662.5" y="356.2" textLength="651.8" lengthAdjust="spacingAndGlyphs">UV laser treated 18 nm Au</text><path d="M1531.3 403.5H1637" stroke="#000" stroke-width="9.5" stroke-linecap="round" stroke-dasharray="0 21"/><text x="1662.5" y="420.0" textLength="533.6" lengthAdjust="spacingAndGlyphs">Unexposed 39 nm Au</text><path d="M1531.3 467.5H1630" stroke="#127d12" stroke-width="11" stroke-linecap="round" stroke-dasharray="0 24.4"/><text x="1662.5" y="483.8" textLength="730.3" lengthAdjust="spacingAndGlyphs">Green laser treated 39 nm Au</text><path d="M1531.3 531.5H1630" stroke="#8f48dc" stroke-width="11" stroke-linecap="round" stroke-dasharray="0 24.4"/><text x="1662.5" y="547.6" textLength="651.8" lengthAdjust="spacingAndGlyphs">UV laser treated 39 nm Au</text></g>
<text x="1370" y="1851.4" text-anchor="middle" font-family="'Liberation Sans', Arial, sans-serif" font-weight="bold" font-size="77.5" textLength="640.7" lengthAdjust="spacingAndGlyphs" fill="#000">Wavelength (nm)</text>
<text transform="translate(92.5 842.8) rotate(-90)" x="0" y="0" text-anchor="middle" font-family="'Liberation Sans', Arial, sans-serif" font-weight="bold" font-size="79" textLength="637" lengthAdjust="spacingAndGlyphs" fill="#000">Transmittance (%)</text>
</svg>
</body></html>
